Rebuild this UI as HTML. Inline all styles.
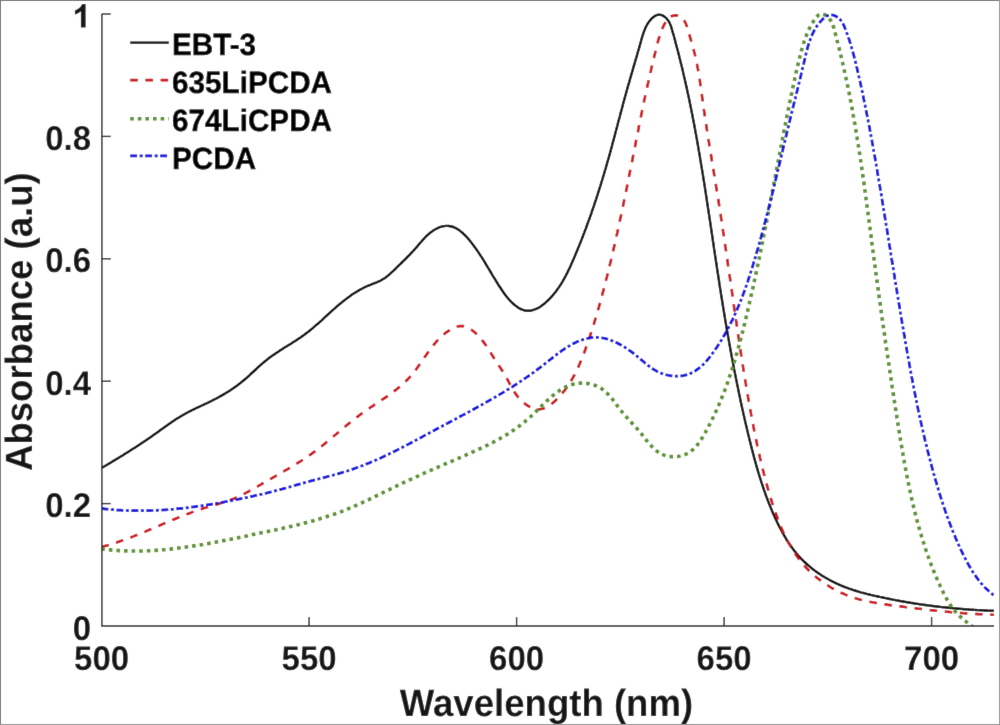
<!DOCTYPE html>
<html><head><meta charset="utf-8"><title>Absorbance spectra</title>
<style>html,body{margin:0;padding:0;background:#fff;width:1000px;height:725px;overflow:hidden}svg{display:block;text-rendering:geometricPrecision}</style>
</head><body>
<svg width="1000" height="725" viewBox="0 0 1000 725">
<defs><filter id="soft" x="0" y="0" width="1000" height="725" filterUnits="userSpaceOnUse"><feConvolveMatrix order="3" kernelMatrix="0.0052 0.0619 0.0052 0.0619 0.7314 0.0619 0.0052 0.0619 0.0052" divisor="1" edgeMode="duplicate" preserveAlpha="true"/></filter></defs>
<g filter="url(#soft)">
<rect x="0" y="0" width="1000" height="725" fill="#ffffff"/>
<defs><clipPath id="cp"><rect x="101.6" y="4.0" width="892.4" height="622.0"/></clipPath></defs>
<g clip-path="url(#cp)" fill="none" stroke-linejoin="round">
<path d="M101.5,468.0 L102.8,467.2 L104.1,466.5 L105.4,465.7 L106.7,465.0 L108.0,464.2 L109.2,463.4 L110.5,462.7 L111.8,461.9 L113.1,461.1 L114.4,460.4 L115.7,459.6 L117.0,458.8 L118.3,458.1 L119.5,457.3 L120.8,456.5 L122.1,455.7 L123.4,454.9 L124.6,454.1 L125.9,453.3 L127.2,452.5 L128.4,451.7 L129.7,450.9 L131.0,450.1 L132.2,449.3 L133.5,448.5 L134.8,447.7 L136.0,446.9 L137.3,446.1 L138.5,445.2 L139.8,444.4 L141.0,443.6 L142.3,442.8 L143.5,441.9 L144.8,441.1 L146.0,440.2 L147.2,439.4 L148.5,438.6 L149.7,437.7 L150.9,436.9 L152.2,436.0 L153.4,435.1 L154.6,434.3 L155.9,433.4 L157.1,432.5 L158.3,431.7 L159.5,430.8 L160.7,429.9 L161.9,429.0 L163.2,428.2 L164.4,427.3 L165.6,426.4 L166.8,425.6 L168.0,424.7 L169.3,423.8 L170.5,423.0 L171.7,422.1 L173.0,421.3 L174.2,420.5 L175.5,419.6 L176.7,418.8 L178.0,418.0 L179.3,417.2 L180.5,416.4 L181.8,415.7 L183.1,414.9 L184.4,414.2 L185.7,413.4 L187.1,412.7 L188.4,412.0 L189.7,411.3 L191.1,410.7 L192.4,410.0 L193.8,409.3 L195.1,408.7 L196.5,408.0 L197.8,407.4 L199.2,406.8 L200.5,406.1 L201.9,405.5 L203.2,404.9 L204.6,404.2 L206.0,403.6 L207.3,403.0 L208.7,402.3 L210.0,401.7 L211.4,401.0 L212.7,400.3 L214.0,399.6 L215.4,399.0 L216.7,398.3 L218.0,397.6 L219.3,396.8 L220.6,396.1 L221.9,395.4 L223.2,394.6 L224.5,393.9 L225.8,393.1 L227.1,392.3 L228.4,391.5 L229.6,390.7 L230.9,389.9 L232.1,389.0 L233.4,388.2 L234.6,387.3 L235.8,386.5 L237.0,385.6 L238.2,384.7 L239.4,383.8 L240.6,382.9 L241.8,381.9 L242.9,381.0 L244.1,380.0 L245.2,379.0 L246.4,378.1 L247.5,377.1 L248.6,376.1 L249.7,375.1 L250.8,374.0 L251.9,373.0 L253.0,372.0 L254.1,371.0 L255.2,370.0 L256.3,369.0 L257.4,367.9 L258.5,366.9 L259.6,365.9 L260.8,364.9 L261.9,363.9 L263.0,362.9 L264.2,362.0 L265.3,361.0 L266.5,360.1 L267.6,359.1 L268.8,358.2 L270.0,357.3 L271.2,356.4 L272.5,355.6 L273.7,354.7 L274.9,353.9 L276.2,353.0 L277.4,352.2 L278.7,351.4 L279.9,350.6 L281.2,349.7 L282.5,348.9 L283.7,348.1 L285.0,347.3 L286.3,346.6 L287.5,345.8 L288.8,345.0 L290.1,344.2 L291.4,343.4 L292.6,342.6 L293.9,341.8 L295.1,341.0 L296.4,340.2 L297.7,339.3 L298.9,338.5 L300.2,337.7 L301.4,336.8 L302.6,336.0 L303.8,335.1 L305.0,334.2 L306.2,333.3 L307.4,332.4 L308.6,331.5 L309.8,330.5 L310.9,329.6 L312.1,328.6 L313.3,327.7 L314.4,326.7 L315.5,325.7 L316.7,324.7 L317.8,323.8 L318.9,322.8 L320.0,321.8 L321.1,320.8 L322.3,319.8 L323.4,318.7 L324.5,317.7 L325.6,316.7 L326.7,315.7 L327.8,314.7 L328.9,313.7 L330.0,312.7 L331.1,311.7 L332.2,310.7 L333.3,309.7 L334.5,308.7 L335.6,307.7 L336.7,306.7 L337.8,305.7 L339.0,304.7 L340.1,303.8 L341.3,302.8 L342.4,301.9 L343.6,300.9 L344.8,300.0 L346.0,299.1 L347.2,298.1 L348.4,297.2 L349.6,296.4 L350.8,295.5 L352.0,294.6 L353.3,293.8 L354.5,293.0 L355.8,292.2 L357.1,291.4 L358.4,290.6 L359.7,289.9 L361.0,289.2 L362.3,288.5 L363.6,287.8 L365.0,287.1 L366.3,286.5 L367.7,285.9 L369.1,285.3 L370.5,284.8 L371.9,284.2 L373.3,283.7 L374.7,283.2 L376.1,282.6 L377.5,282.0 L378.8,281.4 L380.2,280.8 L381.5,280.1 L382.8,279.3 L384.1,278.5 L385.3,277.7 L386.5,276.8 L387.7,275.9 L388.9,274.9 L390.0,273.9 L391.1,272.9 L392.2,271.9 L393.3,270.9 L394.4,269.8 L395.4,268.8 L396.5,267.7 L397.6,266.7 L398.6,265.6 L399.7,264.6 L400.8,263.5 L401.9,262.5 L402.9,261.4 L404.0,260.4 L405.1,259.3 L406.1,258.3 L407.2,257.2 L408.2,256.1 L409.3,255.1 L410.3,254.0 L411.3,252.9 L412.4,251.8 L413.4,250.7 L414.4,249.6 L415.4,248.5 L416.4,247.4 L417.4,246.2 L418.3,245.1 L419.3,243.9 L420.3,242.8 L421.3,241.7 L422.3,240.5 L423.2,239.4 L424.3,238.3 L425.3,237.2 L426.4,236.2 L427.4,235.1 L428.6,234.1 L429.7,233.2 L430.9,232.2 L432.1,231.4 L433.3,230.5 L434.6,229.7 L435.9,229.0 L437.3,228.3 L438.6,227.7 L440.0,227.2 L441.4,226.7 L442.9,226.3 L444.4,226.1 L445.9,225.9 L447.4,225.9 L448.9,226.0 L450.3,226.2 L451.8,226.5 L453.2,227.0 L454.6,227.6 L456.0,228.2 L457.3,229.0 L458.5,229.8 L459.7,230.6 L460.9,231.6 L462.1,232.5 L463.2,233.5 L464.3,234.6 L465.3,235.6 L466.4,236.7 L467.4,237.8 L468.4,238.9 L469.3,240.1 L470.3,241.2 L471.2,242.4 L472.1,243.6 L473.0,244.8 L473.9,246.0 L474.8,247.2 L475.7,248.4 L476.6,249.7 L477.4,250.9 L478.3,252.1 L479.1,253.4 L479.9,254.6 L480.7,255.9 L481.6,257.1 L482.4,258.4 L483.2,259.7 L484.0,260.9 L484.7,262.2 L485.5,263.5 L486.3,264.8 L487.1,266.1 L487.8,267.3 L488.6,268.6 L489.4,269.9 L490.1,271.2 L490.9,272.5 L491.7,273.8 L492.4,275.1 L493.2,276.4 L494.0,277.6 L494.8,278.9 L495.6,280.2 L496.3,281.5 L497.1,282.7 L497.9,284.0 L498.7,285.3 L499.5,286.5 L500.4,287.8 L501.2,289.0 L502.0,290.3 L502.9,291.5 L503.7,292.8 L504.6,294.0 L505.5,295.2 L506.4,296.4 L507.4,297.5 L508.3,298.7 L509.3,299.8 L510.3,300.9 L511.4,302.0 L512.4,303.0 L513.5,304.0 L514.7,305.0 L515.9,305.9 L517.1,306.8 L518.3,307.7 L519.6,308.4 L520.9,309.1 L522.3,309.7 L523.7,310.2 L525.2,310.5 L526.7,310.7 L528.2,310.8 L529.7,310.7 L531.2,310.5 L532.6,310.2 L534.1,309.7 L535.5,309.2 L536.8,308.6 L538.2,307.9 L539.5,307.2 L540.7,306.4 L541.9,305.5 L543.2,304.6 L544.3,303.7 L545.5,302.7 L546.6,301.7 L547.7,300.7 L548.7,299.6 L549.8,298.6 L550.8,297.5 L551.8,296.4 L552.8,295.2 L553.8,294.1 L554.7,292.9 L555.7,291.7 L556.6,290.6 L557.4,289.3 L558.3,288.1 L559.2,286.9 L560.0,285.6 L560.8,284.4 L561.6,283.1 L562.4,281.8 L563.1,280.5 L563.9,279.2 L564.6,277.9 L565.3,276.6 L566.0,275.3 L566.7,273.9 L567.4,272.6 L568.0,271.3 L568.7,269.9 L569.3,268.5 L570.0,267.2 L570.6,265.8 L571.2,264.5 L571.8,263.1 L572.4,261.7 L573.0,260.3 L573.6,259.0 L574.2,257.6 L574.8,256.2 L575.4,254.8 L575.9,253.4 L576.5,252.1 L577.1,250.7 L577.7,249.3 L578.2,247.9 L578.8,246.5 L579.4,245.1 L579.9,243.7 L580.5,242.3 L581.0,241.0 L581.6,239.6 L582.1,238.2 L582.7,236.8 L583.2,235.4 L583.7,234.0 L584.3,232.6 L584.8,231.2 L585.3,229.8 L585.9,228.4 L586.4,227.0 L586.9,225.5 L587.4,224.1 L587.9,222.7 L588.4,221.3 L589.0,219.9 L589.5,218.5 L590.0,217.1 L590.5,215.7 L591.0,214.3 L591.5,212.8 L591.9,211.4 L592.4,210.0 L592.9,208.6 L593.4,207.2 L593.9,205.8 L594.4,204.3 L594.8,202.9 L595.3,201.5 L595.8,200.1 L596.3,198.6 L596.7,197.2 L597.2,195.8 L597.7,194.4 L598.1,192.9 L598.6,191.5 L599.0,190.1 L599.5,188.7 L599.9,187.2 L600.4,185.8 L600.8,184.4 L601.3,182.9 L601.7,181.5 L602.1,180.1 L602.6,178.6 L603.0,177.2 L603.4,175.8 L603.9,174.3 L604.3,172.9 L604.7,171.5 L605.1,170.0 L605.6,168.6 L606.0,167.1 L606.4,165.7 L606.8,164.3 L607.2,162.8 L607.6,161.4 L608.1,159.9 L608.5,158.5 L608.9,157.0 L609.3,155.6 L609.7,154.2 L610.1,152.7 L610.5,151.3 L610.9,149.8 L611.3,148.4 L611.7,146.9 L612.1,145.5 L612.4,144.0 L612.8,142.6 L613.2,141.1 L613.6,139.7 L614.0,138.2 L614.4,136.8 L614.8,135.4 L615.2,133.9 L615.5,132.5 L615.9,131.0 L616.3,129.6 L616.7,128.1 L617.1,126.7 L617.5,125.2 L617.8,123.8 L618.2,122.3 L618.6,120.9 L619.0,119.4 L619.4,118.0 L619.8,116.5 L620.1,115.1 L620.5,113.6 L620.9,112.2 L621.3,110.7 L621.7,109.3 L622.1,107.8 L622.5,106.4 L622.8,104.9 L623.2,103.5 L623.6,102.0 L624.0,100.6 L624.4,99.1 L624.8,97.7 L625.2,96.2 L625.6,94.8 L626.0,93.4 L626.4,91.9 L626.8,90.5 L627.2,89.0 L627.6,87.6 L628.0,86.1 L628.4,84.7 L628.8,83.3 L629.3,81.8 L629.7,80.4 L630.1,78.9 L630.5,77.5 L630.9,76.1 L631.3,74.6 L631.8,73.2 L632.2,71.7 L632.6,70.3 L633.0,68.9 L633.4,67.4 L633.8,66.0 L634.3,64.5 L634.7,63.1 L635.1,61.7 L635.5,60.2 L635.9,58.8 L636.4,57.3 L636.8,55.9 L637.2,54.5 L637.6,53.0 L638.0,51.6 L638.4,50.1 L638.9,48.7 L639.3,47.3 L639.7,45.8 L640.1,44.4 L640.5,42.9 L640.9,41.5 L641.3,40.0 L641.7,38.6 L642.1,37.2 L642.6,35.7 L643.0,34.3 L643.5,32.9 L644.0,31.5 L644.5,30.1 L645.1,28.7 L645.7,27.3 L646.4,26.0 L647.1,24.7 L647.9,23.4 L648.7,22.1 L649.6,20.9 L650.5,19.8 L651.6,18.7 L652.7,17.6 L653.8,16.7 L655.1,15.9 L656.4,15.2 L657.9,14.8 L659.4,14.7 L660.8,14.9 L662.3,15.4 L663.6,16.1 L664.8,16.9 L665.9,17.9 L667.0,19.0 L667.9,20.2 L668.8,21.4 L669.5,22.7 L670.1,24.1 L670.7,25.5 L671.2,26.9 L671.6,28.3 L672.0,29.8 L672.4,31.2 L672.8,32.7 L673.3,34.1 L673.7,35.5 L674.1,37.0 L674.5,38.4 L674.9,39.9 L675.3,41.3 L675.6,42.8 L676.0,44.2 L676.4,45.7 L676.8,47.1 L677.2,48.6 L677.6,50.0 L678.0,51.5 L678.3,52.9 L678.7,54.4 L679.1,55.8 L679.4,57.3 L679.8,58.7 L680.2,60.2 L680.5,61.6 L680.9,63.1 L681.3,64.5 L681.6,66.0 L682.0,67.5 L682.3,68.9 L682.7,70.4 L683.0,71.8 L683.3,73.3 L683.7,74.8 L684.0,76.2 L684.4,77.7 L684.7,79.1 L685.0,80.6 L685.4,82.1 L685.7,83.5 L686.0,85.0 L686.3,86.4 L686.7,87.9 L687.0,89.4 L687.3,90.8 L687.6,92.3 L687.9,93.8 L688.3,95.2 L688.6,96.7 L688.9,98.2 L689.2,99.6 L689.5,101.1 L689.8,102.6 L690.1,104.0 L690.4,105.5 L690.7,107.0 L691.0,108.4 L691.3,109.9 L691.6,111.4 L691.9,112.9 L692.2,114.3 L692.5,115.8 L692.7,117.3 L693.0,118.7 L693.3,120.2 L693.6,121.7 L693.9,123.2 L694.2,124.6 L694.4,126.1 L694.7,127.6 L695.0,129.0 L695.3,130.5 L695.5,132.0 L695.8,133.5 L696.1,134.9 L696.3,136.4 L696.6,137.9 L696.9,139.4 L697.1,140.8 L697.4,142.3 L697.6,143.8 L697.9,145.3 L698.2,146.8 L698.4,148.2 L698.7,149.7 L698.9,151.2 L699.2,152.7 L699.4,154.1 L699.7,155.6 L699.9,157.1 L700.2,158.6 L700.4,160.0 L700.7,161.5 L700.9,163.0 L701.2,164.5 L701.4,166.0 L701.7,167.4 L701.9,168.9 L702.2,170.4 L702.4,171.9 L702.6,173.4 L702.9,174.8 L703.1,176.3 L703.3,177.8 L703.6,179.3 L703.8,180.8 L704.1,182.2 L704.3,183.7 L704.5,185.2 L704.8,186.7 L705.0,188.2 L705.2,189.6 L705.4,191.1 L705.7,192.6 L705.9,194.1 L706.1,195.6 L706.4,197.1 L706.6,198.5 L706.8,200.0 L707.0,201.5 L707.3,203.0 L707.5,204.5 L707.7,205.9 L707.9,207.4 L708.2,208.9 L708.4,210.4 L708.6,211.9 L708.8,213.4 L709.1,214.8 L709.3,216.3 L709.5,217.8 L709.7,219.3 L710.0,220.8 L710.2,222.2 L710.4,223.7 L710.6,225.2 L710.8,226.7 L711.1,228.2 L711.3,229.7 L711.5,231.1 L711.7,232.6 L711.9,234.1 L712.2,235.6 L712.4,237.1 L712.6,238.6 L712.8,240.0 L713.0,241.5 L713.3,243.0 L713.5,244.5 L713.7,246.0 L713.9,247.5 L714.1,248.9 L714.4,250.4 L714.6,251.9 L714.8,253.4 L715.0,254.9 L715.3,256.3 L715.5,257.8 L715.7,259.3 L715.9,260.8 L716.1,262.3 L716.4,263.8 L716.6,265.2 L716.8,266.7 L717.0,268.2 L717.3,269.7 L717.5,271.2 L717.7,272.7 L717.9,274.1 L718.2,275.6 L718.4,277.1 L718.6,278.6 L718.9,280.1 L719.1,281.5 L719.3,283.0 L719.5,284.5 L719.8,286.0 L720.0,287.5 L720.2,288.9 L720.5,290.4 L720.7,291.9 L720.9,293.4 L721.2,294.9 L721.4,296.4 L721.6,297.8 L721.9,299.3 L722.1,300.8 L722.4,302.3 L722.6,303.8 L722.8,305.2 L723.1,306.7 L723.3,308.2 L723.6,309.7 L723.8,311.1 L724.0,312.6 L724.3,314.1 L724.5,315.6 L724.8,317.1 L725.0,318.5 L725.3,320.0 L725.5,321.5 L725.8,323.0 L726.0,324.5 L726.3,325.9 L726.5,327.4 L726.8,328.9 L727.0,330.4 L727.3,331.8 L727.6,333.3 L727.8,334.8 L728.1,336.3 L728.3,337.7 L728.6,339.2 L728.9,340.7 L729.1,342.2 L729.4,343.7 L729.6,345.1 L729.9,346.6 L730.2,348.1 L730.4,349.6 L730.7,351.0 L731.0,352.5 L731.3,354.0 L731.5,355.4 L731.8,356.9 L732.1,358.4 L732.4,359.9 L732.6,361.3 L732.9,362.8 L733.2,364.3 L733.5,365.8 L733.8,367.2 L734.0,368.7 L734.3,370.2 L734.6,371.6 L734.9,373.1 L735.2,374.6 L735.5,376.1 L735.8,377.5 L736.1,379.0 L736.4,380.5 L736.7,381.9 L737.0,383.4 L737.3,384.9 L737.6,386.3 L737.9,387.8 L738.2,389.3 L738.5,390.7 L738.8,392.2 L739.1,393.7 L739.4,395.2 L739.7,396.6 L740.0,398.1 L740.3,399.5 L740.6,401.0 L740.9,402.5 L741.3,403.9 L741.6,405.4 L741.9,406.9 L742.2,408.3 L742.6,409.8 L742.9,411.3 L743.2,412.7 L743.5,414.2 L743.9,415.7 L744.2,417.1 L744.5,418.6 L744.9,420.0 L745.2,421.5 L745.5,423.0 L745.9,424.4 L746.2,425.9 L746.6,427.3 L746.9,428.8 L747.3,430.3 L747.6,431.7 L748.0,433.2 L748.3,434.6 L748.7,436.1 L749.0,437.5 L749.4,439.0 L749.7,440.4 L750.1,441.9 L750.5,443.4 L750.8,444.8 L751.2,446.3 L751.6,447.7 L751.9,449.2 L752.3,450.6 L752.7,452.1 L753.1,453.5 L753.5,455.0 L753.8,456.4 L754.2,457.9 L754.6,459.3 L755.0,460.8 L755.4,462.2 L755.8,463.6 L756.2,465.1 L756.6,466.5 L757.1,468.0 L757.5,469.4 L757.9,470.8 L758.3,472.3 L758.8,473.7 L759.2,475.2 L759.6,476.6 L760.1,478.0 L760.5,479.4 L761.0,480.9 L761.4,482.3 L761.9,483.7 L762.4,485.2 L762.9,486.6 L763.3,488.0 L763.8,489.4 L764.3,490.8 L764.8,492.2 L765.3,493.7 L765.8,495.1 L766.3,496.5 L766.9,497.9 L767.4,499.3 L767.9,500.7 L768.5,502.1 L769.0,503.5 L769.6,504.9 L770.1,506.3 L770.7,507.6 L771.3,509.0 L771.8,510.4 L772.4,511.8 L773.0,513.2 L773.6,514.5 L774.2,515.9 L774.8,517.3 L775.5,518.6 L776.1,520.0 L776.7,521.4 L777.4,522.7 L778.0,524.1 L778.7,525.4 L779.4,526.7 L780.1,528.1 L780.8,529.4 L781.5,530.7 L782.2,532.0 L782.9,533.4 L783.7,534.7 L784.4,536.0 L785.2,537.2 L785.9,538.5 L786.7,539.8 L787.5,541.1 L788.3,542.3 L789.2,543.6 L790.0,544.8 L790.9,546.0 L791.7,547.3 L792.6,548.5 L793.5,549.7 L794.5,550.9 L795.4,552.0 L796.3,553.2 L797.3,554.3 L798.3,555.5 L799.3,556.6 L800.3,557.7 L801.3,558.8 L802.4,559.9 L803.4,560.9 L804.5,562.0 L805.6,563.0 L806.7,564.0 L807.8,565.0 L809.0,566.0 L810.1,566.9 L811.3,567.9 L812.4,568.8 L813.6,569.7 L814.8,570.6 L816.0,571.5 L817.3,572.4 L818.5,573.2 L819.7,574.1 L821.0,574.9 L822.2,575.7 L823.5,576.5 L824.8,577.3 L826.1,578.0 L827.4,578.8 L828.7,579.5 L830.0,580.2 L831.3,580.9 L832.7,581.6 L834.0,582.3 L835.4,582.9 L836.7,583.6 L838.1,584.2 L839.5,584.8 L840.8,585.4 L842.2,586.0 L843.6,586.5 L845.0,587.1 L846.4,587.6 L847.8,588.2 L849.2,588.7 L850.6,589.1 L852.1,589.6 L853.5,590.1 L854.9,590.5 L856.3,591.0 L857.8,591.4 L859.2,591.8 L860.7,592.3 L862.1,592.7 L863.5,593.0 L865.0,593.4 L866.4,593.8 L867.9,594.2 L869.4,594.5 L870.8,594.9 L872.3,595.2 L873.7,595.6 L875.2,595.9 L876.7,596.2 L878.1,596.5 L879.6,596.9 L881.0,597.2 L882.5,597.5 L884.0,597.8 L885.4,598.1 L886.9,598.4 L888.4,598.7 L889.9,599.0 L891.3,599.3 L892.8,599.6 L894.3,599.9 L895.7,600.2 L897.2,600.4 L898.7,600.7 L900.2,601.0 L901.6,601.2 L903.1,601.5 L904.6,601.8 L906.1,602.0 L907.5,602.3 L909.0,602.5 L910.5,602.8 L912.0,603.0 L913.5,603.2 L914.9,603.5 L916.4,603.7 L917.9,603.9 L919.4,604.2 L920.9,604.4 L922.4,604.6 L923.8,604.8 L925.3,605.0 L926.8,605.2 L928.3,605.4 L929.8,605.6 L931.3,605.8 L932.8,606.0 L934.2,606.2 L935.7,606.4 L937.2,606.5 L938.7,606.7 L940.2,606.9 L941.7,607.1 L943.2,607.2 L944.7,607.4 L946.2,607.5 L947.6,607.7 L949.1,607.8 L950.6,608.0 L952.1,608.1 L953.6,608.3 L955.1,608.4 L956.6,608.5 L958.1,608.7 L959.6,608.8 L961.1,608.9 L962.6,609.0 L964.1,609.2 L965.6,609.3 L967.1,609.4 L968.6,609.5 L970.0,609.6 L971.5,609.7 L973.0,609.8 L974.5,609.9 L976.0,610.0 L977.5,610.1 L979.0,610.1 L980.5,610.2 L982.0,610.3 L983.5,610.4 L985.0,610.5 L986.5,610.5 L988.0,610.6 L989.5,610.6 L991.0,610.7 L992.5,610.8 L994.0,610.8" stroke="#000000" stroke-width="2.4"/>
<path d="M101.4,547.0 L102.9,546.6 L104.3,546.2 L105.8,545.8 L107.2,545.4 L108.7,545.0 L110.1,544.6 L111.5,544.1 L113.0,543.7 L114.4,543.2 L115.8,542.8 L117.3,542.3 L118.7,541.8 L120.1,541.3 L121.5,540.8 L122.9,540.3 L124.3,539.8 L125.7,539.3 L127.2,538.8 L128.6,538.3 L130.0,537.7 L131.4,537.2 L132.8,536.6 L134.2,536.1 L135.5,535.5 L136.9,535.0 L138.3,534.4 L139.7,533.9 L141.1,533.3 L142.5,532.7 L143.9,532.1 L145.3,531.6 L146.6,531.0 L148.0,530.4 L149.4,529.8 L150.8,529.2 L152.2,528.6 L153.5,528.1 L154.9,527.5 L156.3,526.9 L157.7,526.3 L159.1,525.7 L160.4,525.1 L161.8,524.5 L163.2,523.9 L164.6,523.3 L166.0,522.7 L167.3,522.2 L168.7,521.6 L170.1,521.0 L171.5,520.4 L172.9,519.8 L174.2,519.3 L175.6,518.7 L177.0,518.1 L178.4,517.5 L179.8,517.0 L181.2,516.4 L182.6,515.9 L184.0,515.3 L185.4,514.8 L186.8,514.2 L188.2,513.7 L189.6,513.2 L191.0,512.6 L192.4,512.1 L193.8,511.6 L195.2,511.1 L196.6,510.6 L198.0,510.1 L199.5,509.6 L200.9,509.2 L202.3,508.7 L203.7,508.2 L205.2,507.8 L206.6,507.4 L208.0,506.9 L209.5,506.5 L210.9,506.1 L212.4,505.6 L213.8,505.2 L215.2,504.8 L216.7,504.4 L218.1,504.0 L219.6,503.5 L221.0,503.1 L222.4,502.6 L223.8,502.2 L225.3,501.7 L226.7,501.3 L228.1,500.8 L229.5,500.3 L230.9,499.8 L232.3,499.2 L233.7,498.7 L235.1,498.1 L236.5,497.5 L237.9,496.9 L239.2,496.3 L240.6,495.6 L241.9,495.0 L243.3,494.3 L244.6,493.6 L245.9,492.9 L247.2,492.2 L248.6,491.5 L249.9,490.7 L251.2,490.0 L252.5,489.3 L253.8,488.5 L255.1,487.8 L256.4,487.0 L257.7,486.3 L259.0,485.5 L260.3,484.8 L261.6,484.0 L262.9,483.3 L264.2,482.5 L265.5,481.8 L266.8,481.0 L268.1,480.3 L269.4,479.5 L270.7,478.8 L272.0,478.1 L273.3,477.3 L274.6,476.6 L275.9,475.8 L277.2,475.1 L278.5,474.4 L279.8,473.6 L281.1,472.9 L282.4,472.1 L283.7,471.4 L285.0,470.6 L286.3,469.9 L287.6,469.1 L288.9,468.3 L290.2,467.6 L291.5,466.8 L292.8,466.0 L294.0,465.3 L295.3,464.5 L296.6,463.7 L297.9,462.9 L299.1,462.1 L300.4,461.3 L301.7,460.5 L302.9,459.7 L304.2,458.8 L305.4,458.0 L306.7,457.2 L307.9,456.3 L309.1,455.5 L310.4,454.6 L311.6,453.8 L312.8,452.9 L314.0,452.0 L315.2,451.1 L316.4,450.2 L317.6,449.3 L318.8,448.4 L320.0,447.5 L321.2,446.5 L322.4,445.6 L323.5,444.7 L324.7,443.7 L325.9,442.8 L327.0,441.8 L328.2,440.9 L329.3,439.9 L330.5,439.0 L331.6,438.0 L332.8,437.0 L333.9,436.1 L335.1,435.1 L336.2,434.1 L337.3,433.1 L338.5,432.2 L339.6,431.2 L340.8,430.2 L341.9,429.3 L343.1,428.3 L344.2,427.3 L345.4,426.4 L346.5,425.4 L347.7,424.5 L348.8,423.5 L350.0,422.6 L351.2,421.6 L352.3,420.7 L353.5,419.8 L354.7,418.8 L355.9,417.9 L357.1,417.0 L358.3,416.1 L359.5,415.2 L360.7,414.3 L361.9,413.4 L363.1,412.5 L364.3,411.7 L365.6,410.8 L366.8,410.0 L368.0,409.1 L369.3,408.3 L370.5,407.4 L371.8,406.6 L373.0,405.8 L374.3,404.9 L375.5,404.1 L376.7,403.3 L378.0,402.4 L379.2,401.6 L380.5,400.8 L381.7,399.9 L383.0,399.1 L384.2,398.3 L385.5,397.4 L386.7,396.6 L387.9,395.7 L389.1,394.8 L390.4,394.0 L391.6,393.1 L392.8,392.2 L394.0,391.3 L395.2,390.4 L396.4,389.4 L397.5,388.5 L398.7,387.6 L399.8,386.6 L401.0,385.6 L402.1,384.6 L403.2,383.6 L404.3,382.6 L405.4,381.6 L406.5,380.5 L407.5,379.5 L408.6,378.4 L409.6,377.3 L410.6,376.2 L411.6,375.0 L412.5,373.9 L413.5,372.7 L414.4,371.5 L415.3,370.4 L416.2,369.2 L417.1,368.0 L418.0,366.7 L418.9,365.5 L419.7,364.3 L420.6,363.1 L421.5,361.8 L422.3,360.6 L423.2,359.4 L424.0,358.1 L424.9,356.9 L425.7,355.7 L426.6,354.4 L427.4,353.2 L428.3,352.0 L429.2,350.8 L430.1,349.6 L431.0,348.4 L431.9,347.2 L432.8,346.0 L433.7,344.8 L434.7,343.6 L435.6,342.5 L436.6,341.4 L437.6,340.3 L438.7,339.2 L439.7,338.1 L440.8,337.1 L441.9,336.0 L443.0,335.0 L444.2,334.1 L445.3,333.1 L446.5,332.2 L447.8,331.4 L449.0,330.6 L450.3,329.8 L451.6,329.0 L452.9,328.3 L454.3,327.7 L455.7,327.1 L457.1,326.6 L458.5,326.3 L460.0,326.1 L461.5,326.0 L463.0,326.1 L464.5,326.4 L465.9,326.9 L467.3,327.4 L468.6,328.1 L469.9,328.9 L471.2,329.7 L472.4,330.5 L473.6,331.5 L474.8,332.4 L475.9,333.4 L477.0,334.4 L478.0,335.5 L479.1,336.6 L480.1,337.7 L481.1,338.8 L482.0,340.0 L482.9,341.2 L483.8,342.4 L484.7,343.6 L485.6,344.8 L486.4,346.1 L487.2,347.3 L488.1,348.6 L488.9,349.8 L489.7,351.1 L490.5,352.4 L491.2,353.7 L492.0,354.9 L492.8,356.2 L493.6,357.5 L494.4,358.7 L495.2,360.0 L496.0,361.3 L496.9,362.5 L497.7,363.8 L498.5,365.0 L499.3,366.3 L500.2,367.5 L501.0,368.8 L501.8,370.0 L502.6,371.3 L503.4,372.6 L504.2,373.8 L505.0,375.1 L505.8,376.4 L506.5,377.7 L507.2,379.0 L507.9,380.3 L508.6,381.7 L509.3,383.0 L510.0,384.3 L510.8,385.6 L511.5,387.0 L512.2,388.3 L512.9,389.6 L513.7,390.9 L514.5,392.1 L515.3,393.4 L516.2,394.6 L517.1,395.8 L518.0,397.0 L519.0,398.1 L520.0,399.2 L521.1,400.3 L522.1,401.4 L523.2,402.4 L524.4,403.3 L525.6,404.2 L526.8,405.1 L528.1,405.9 L529.4,406.7 L530.7,407.4 L532.1,408.0 L533.5,408.5 L534.9,408.9 L536.4,409.2 L537.9,409.3 L539.4,409.3 L540.9,409.1 L542.3,408.8 L543.8,408.4 L545.2,407.8 L546.5,407.2 L547.8,406.5 L549.1,405.7 L550.4,404.8 L551.6,403.9 L552.7,403.0 L553.9,402.0 L555.0,401.0 L556.1,400.0 L557.1,398.9 L558.2,397.9 L559.2,396.8 L560.2,395.7 L561.2,394.5 L562.2,393.4 L563.1,392.2 L564.1,391.1 L565.0,389.9 L565.9,388.7 L566.8,387.5 L567.6,386.2 L568.5,385.0 L569.3,383.7 L570.1,382.5 L570.9,381.2 L571.6,379.9 L572.4,378.6 L573.1,377.3 L573.8,376.0 L574.6,374.7 L575.2,373.3 L575.9,372.0 L576.6,370.6 L577.2,369.3 L577.9,367.9 L578.5,366.6 L579.1,365.2 L579.7,363.8 L580.3,362.4 L580.9,361.1 L581.4,359.7 L582.0,358.3 L582.6,356.9 L583.1,355.5 L583.6,354.1 L584.2,352.7 L584.7,351.3 L585.2,349.9 L585.7,348.5 L586.2,347.0 L586.7,345.6 L587.2,344.2 L587.7,342.8 L588.2,341.4 L588.7,340.0 L589.2,338.5 L589.6,337.1 L590.1,335.7 L590.6,334.3 L591.0,332.9 L591.5,331.4 L592.0,330.0 L592.4,328.6 L592.9,327.1 L593.3,325.7 L593.8,324.3 L594.2,322.8 L594.6,321.4 L595.1,320.0 L595.5,318.5 L595.9,317.1 L596.4,315.7 L596.8,314.2 L597.2,312.8 L597.6,311.3 L598.0,309.9 L598.5,308.5 L598.9,307.0 L599.3,305.6 L599.7,304.1 L600.1,302.7 L600.5,301.2 L600.9,299.8 L601.3,298.3 L601.7,296.9 L602.1,295.4 L602.4,294.0 L602.8,292.6 L603.2,291.1 L603.6,289.7 L604.0,288.2 L604.4,286.8 L604.7,285.3 L605.1,283.8 L605.5,282.4 L605.8,280.9 L606.2,279.5 L606.6,278.0 L607.0,276.6 L607.3,275.1 L607.7,273.7 L608.0,272.2 L608.4,270.8 L608.8,269.3 L609.1,267.8 L609.5,266.4 L609.8,264.9 L610.2,263.5 L610.5,262.0 L610.9,260.6 L611.2,259.1 L611.6,257.6 L611.9,256.2 L612.3,254.7 L612.6,253.3 L612.9,251.8 L613.3,250.3 L613.6,248.9 L614.0,247.4 L614.3,246.0 L614.6,244.5 L615.0,243.0 L615.3,241.6 L615.6,240.1 L615.9,238.6 L616.3,237.2 L616.6,235.7 L616.9,234.2 L617.3,232.8 L617.6,231.3 L617.9,229.9 L618.2,228.4 L618.5,226.9 L618.9,225.5 L619.2,224.0 L619.5,222.5 L619.8,221.1 L620.1,219.6 L620.4,218.1 L620.8,216.7 L621.1,215.2 L621.4,213.7 L621.7,212.3 L622.0,210.8 L622.3,209.3 L622.6,207.9 L622.9,206.4 L623.2,204.9 L623.5,203.5 L623.8,202.0 L624.1,200.5 L624.5,199.1 L624.8,197.6 L625.1,196.1 L625.4,194.6 L625.7,193.2 L626.0,191.7 L626.3,190.2 L626.6,188.8 L626.9,187.3 L627.2,185.8 L627.5,184.4 L627.8,182.9 L628.0,181.4 L628.3,179.9 L628.6,178.5 L628.9,177.0 L629.2,175.5 L629.5,174.1 L629.8,172.6 L630.1,171.1 L630.4,169.7 L630.7,168.2 L631.0,166.7 L631.3,165.2 L631.6,163.8 L631.9,162.3 L632.2,160.8 L632.5,159.4 L632.7,157.9 L633.0,156.4 L633.3,154.9 L633.6,153.5 L633.9,152.0 L634.2,150.5 L634.5,149.1 L634.8,147.6 L635.1,146.1 L635.4,144.6 L635.6,143.2 L635.9,141.7 L636.2,140.2 L636.5,138.8 L636.8,137.3 L637.1,135.8 L637.4,134.3 L637.7,132.9 L638.0,131.4 L638.3,129.9 L638.6,128.5 L638.8,127.0 L639.1,125.5 L639.4,124.1 L639.7,122.6 L640.0,121.1 L640.3,119.6 L640.6,118.2 L640.9,116.7 L641.2,115.2 L641.5,113.8 L641.8,112.3 L642.1,110.8 L642.4,109.4 L642.7,107.9 L643.0,106.4 L643.3,104.9 L643.6,103.5 L643.9,102.0 L644.2,100.5 L644.5,99.1 L644.9,97.6 L645.2,96.1 L645.5,94.7 L645.8,93.2 L646.1,91.7 L646.4,90.3 L646.8,88.8 L647.1,87.3 L647.4,85.9 L647.7,84.4 L648.1,83.0 L648.4,81.5 L648.7,80.0 L649.1,78.6 L649.4,77.1 L649.7,75.6 L650.1,74.2 L650.4,72.7 L650.8,71.3 L651.1,69.8 L651.4,68.3 L651.8,66.9 L652.1,65.4 L652.5,64.0 L652.8,62.5 L653.2,61.1 L653.5,59.6 L653.9,58.1 L654.2,56.7 L654.6,55.2 L654.9,53.8 L655.3,52.3 L655.6,50.8 L656.0,49.4 L656.3,47.9 L656.7,46.5 L657.1,45.0 L657.4,43.6 L657.8,42.1 L658.2,40.7 L658.6,39.2 L659.1,37.8 L659.5,36.4 L660.0,34.9 L660.5,33.5 L661.0,32.1 L661.5,30.7 L662.1,29.3 L662.6,27.9 L663.2,26.6 L663.9,25.2 L664.6,23.9 L665.3,22.6 L666.1,21.3 L667.0,20.1 L668.0,19.0 L669.1,17.9 L670.2,17.0 L671.5,16.2 L672.9,15.7 L674.4,15.4 L675.9,15.3 L677.4,15.5 L678.8,16.0 L680.2,16.6 L681.4,17.5 L682.5,18.5 L683.5,19.6 L684.4,20.8 L685.1,22.2 L685.8,23.5 L686.3,24.9 L686.8,26.3 L687.3,27.7 L687.8,29.1 L688.2,30.6 L688.6,32.0 L689.0,33.5 L689.4,34.9 L689.8,36.4 L690.2,37.8 L690.7,39.2 L691.1,40.7 L691.5,42.1 L691.9,43.6 L692.3,45.0 L692.8,46.4 L693.2,47.9 L693.6,49.3 L693.9,50.8 L694.3,52.2 L694.7,53.7 L695.0,55.1 L695.4,56.6 L695.7,58.1 L696.0,59.5 L696.4,61.0 L696.7,62.5 L697.0,63.9 L697.2,65.4 L697.5,66.9 L697.8,68.4 L698.1,69.8 L698.3,71.3 L698.6,72.8 L698.8,74.3 L699.1,75.7 L699.3,77.2 L699.5,78.7 L699.8,80.2 L700.0,81.7 L700.2,83.2 L700.4,84.6 L700.6,86.1 L700.8,87.6 L701.0,89.1 L701.3,90.6 L701.5,92.1 L701.7,93.5 L701.9,95.0 L702.1,96.5 L702.3,98.0 L702.5,99.5 L702.7,101.0 L702.9,102.5 L703.1,103.9 L703.3,105.4 L703.5,106.9 L703.7,108.4 L703.9,109.9 L704.2,111.4 L704.4,112.9 L704.6,114.3 L704.8,115.8 L705.0,117.3 L705.3,118.8 L705.5,120.3 L705.7,121.8 L705.9,123.2 L706.2,124.7 L706.4,126.2 L706.6,127.7 L706.8,129.2 L707.1,130.6 L707.3,132.1 L707.5,133.6 L707.8,135.1 L708.0,136.6 L708.2,138.1 L708.5,139.5 L708.7,141.0 L709.0,142.5 L709.2,144.0 L709.4,145.5 L709.7,146.9 L709.9,148.4 L710.2,149.9 L710.4,151.4 L710.6,152.9 L710.9,154.3 L711.1,155.8 L711.4,157.3 L711.6,158.8 L711.8,160.3 L712.1,161.7 L712.3,163.2 L712.6,164.7 L712.8,166.2 L713.1,167.7 L713.3,169.1 L713.6,170.6 L713.8,172.1 L714.0,173.6 L714.3,175.1 L714.5,176.5 L714.8,178.0 L715.0,179.5 L715.3,181.0 L715.5,182.5 L715.7,183.9 L716.0,185.4 L716.2,186.9 L716.5,188.4 L716.7,189.9 L716.9,191.3 L717.2,192.8 L717.4,194.3 L717.7,195.8 L717.9,197.3 L718.1,198.7 L718.4,200.2 L718.6,201.7 L718.8,203.2 L719.1,204.7 L719.3,206.1 L719.5,207.6 L719.8,209.1 L720.0,210.6 L720.2,212.1 L720.4,213.6 L720.7,215.0 L720.9,216.5 L721.1,218.0 L721.4,219.5 L721.6,221.0 L721.8,222.5 L722.0,223.9 L722.3,225.4 L722.5,226.9 L722.7,228.4 L722.9,229.9 L723.1,231.4 L723.4,232.8 L723.6,234.3 L723.8,235.8 L724.0,237.3 L724.2,238.8 L724.5,240.3 L724.7,241.7 L724.9,243.2 L725.1,244.7 L725.3,246.2 L725.6,247.7 L725.8,249.2 L726.0,250.6 L726.2,252.1 L726.4,253.6 L726.6,255.1 L726.9,256.6 L727.1,258.1 L727.3,259.5 L727.5,261.0 L727.7,262.5 L727.9,264.0 L728.1,265.5 L728.4,267.0 L728.6,268.4 L728.8,269.9 L729.0,271.4 L729.2,272.9 L729.4,274.4 L729.6,275.9 L729.9,277.4 L730.1,278.8 L730.3,280.3 L730.5,281.8 L730.7,283.3 L730.9,284.8 L731.1,286.3 L731.3,287.7 L731.6,289.2 L731.8,290.7 L732.0,292.2 L732.2,293.7 L732.4,295.2 L732.6,296.7 L732.8,298.1 L733.1,299.6 L733.3,301.1 L733.5,302.6 L733.7,304.1 L733.9,305.6 L734.1,307.0 L734.3,308.5 L734.5,310.0 L734.8,311.5 L735.0,313.0 L735.2,314.5 L735.4,316.0 L735.6,317.4 L735.8,318.9 L736.0,320.4 L736.3,321.9 L736.5,323.4 L736.7,324.9 L736.9,326.3 L737.1,327.8 L737.3,329.3 L737.6,330.8 L737.8,332.3 L738.0,333.8 L738.2,335.2 L738.4,336.7 L738.7,338.2 L738.9,339.7 L739.1,341.2 L739.3,342.7 L739.6,344.1 L739.8,345.6 L740.0,347.1 L740.2,348.6 L740.4,350.1 L740.7,351.6 L740.9,353.0 L741.1,354.5 L741.4,356.0 L741.6,357.5 L741.8,359.0 L742.0,360.4 L742.3,361.9 L742.5,363.4 L742.7,364.9 L743.0,366.4 L743.2,367.9 L743.4,369.3 L743.7,370.8 L743.9,372.3 L744.2,373.8 L744.4,375.3 L744.6,376.7 L744.9,378.2 L745.1,379.7 L745.4,381.2 L745.6,382.7 L745.9,384.1 L746.1,385.6 L746.3,387.1 L746.6,388.6 L746.8,390.1 L747.1,391.5 L747.4,393.0 L747.6,394.5 L747.9,396.0 L748.1,397.4 L748.4,398.9 L748.6,400.4 L748.9,401.9 L749.2,403.4 L749.4,404.8 L749.7,406.3 L750.0,407.8 L750.2,409.3 L750.5,410.7 L750.8,412.2 L751.0,413.7 L751.3,415.2 L751.6,416.6 L751.9,418.1 L752.1,419.6 L752.4,421.1 L752.7,422.5 L753.0,424.0 L753.3,425.5 L753.5,426.9 L753.8,428.4 L754.1,429.9 L754.4,431.4 L754.7,432.8 L755.0,434.3 L755.3,435.8 L755.6,437.2 L755.9,438.7 L756.2,440.2 L756.5,441.6 L756.8,443.1 L757.1,444.6 L757.4,446.0 L757.8,447.5 L758.1,449.0 L758.4,450.4 L758.7,451.9 L759.0,453.4 L759.4,454.8 L759.7,456.3 L760.0,457.8 L760.4,459.2 L760.7,460.7 L761.1,462.1 L761.4,463.6 L761.8,465.1 L762.1,466.5 L762.5,468.0 L762.8,469.4 L763.2,470.9 L763.6,472.3 L763.9,473.8 L764.3,475.2 L764.7,476.7 L765.1,478.1 L765.4,479.6 L765.8,481.0 L766.2,482.5 L766.6,483.9 L767.0,485.4 L767.4,486.8 L767.8,488.3 L768.2,489.7 L768.7,491.2 L769.1,492.6 L769.5,494.0 L769.9,495.5 L770.4,496.9 L770.8,498.3 L771.2,499.8 L771.7,501.2 L772.1,502.6 L772.6,504.1 L773.1,505.5 L773.5,506.9 L774.0,508.3 L774.5,509.8 L775.0,511.2 L775.5,512.6 L776.0,514.0 L776.5,515.4 L777.0,516.8 L777.5,518.2 L778.0,519.6 L778.6,521.0 L779.1,522.4 L779.7,523.8 L780.3,525.2 L780.8,526.6 L781.4,528.0 L782.0,529.3 L782.6,530.7 L783.2,532.1 L783.9,533.4 L784.5,534.8 L785.2,536.2 L785.8,537.5 L786.5,538.8 L787.2,540.2 L787.9,541.5 L788.6,542.8 L789.3,544.1 L790.1,545.4 L790.8,546.7 L791.6,548.0 L792.3,549.3 L793.1,550.6 L793.9,551.8 L794.8,553.1 L795.6,554.3 L796.5,555.6 L797.3,556.8 L798.2,558.0 L799.1,559.2 L800.0,560.4 L800.9,561.6 L801.9,562.8 L802.8,563.9 L803.8,565.0 L804.8,566.2 L805.8,567.3 L806.8,568.4 L807.9,569.5 L808.9,570.5 L810.0,571.6 L811.1,572.6 L812.2,573.6 L813.3,574.6 L814.4,575.6 L815.6,576.6 L816.7,577.6 L817.9,578.5 L819.1,579.4 L820.3,580.3 L821.5,581.2 L822.7,582.1 L823.9,583.0 L825.2,583.8 L826.4,584.6 L827.7,585.4 L828.9,586.2 L830.2,587.0 L831.5,587.8 L832.8,588.5 L834.1,589.2 L835.5,590.0 L836.8,590.6 L838.1,591.3 L839.5,592.0 L840.8,592.6 L842.2,593.2 L843.6,593.8 L844.9,594.4 L846.3,595.0 L847.7,595.5 L849.1,596.1 L850.5,596.6 L852.0,597.1 L853.4,597.6 L854.8,598.0 L856.2,598.4 L857.7,598.9 L859.1,599.3 L860.6,599.7 L862.0,600.0 L863.5,600.4 L864.9,600.7 L866.4,601.1 L867.9,601.4 L869.3,601.7 L870.8,602.0 L872.3,602.3 L873.8,602.5 L875.2,602.8 L876.7,603.1 L878.2,603.3 L879.7,603.6 L881.2,603.8 L882.6,604.0 L884.1,604.2 L885.6,604.4 L887.1,604.6 L888.6,604.9 L890.1,605.1 L891.5,605.3 L893.0,605.5 L894.5,605.6 L896.0,605.8 L897.5,606.0 L899.0,606.2 L900.5,606.4 L902.0,606.6 L903.4,606.8 L904.9,607.0 L906.4,607.2 L907.9,607.4 L909.4,607.6 L910.9,607.8 L912.4,607.9 L913.9,608.1 L915.3,608.3 L916.8,608.5 L918.3,608.7 L919.8,608.8 L921.3,609.0 L922.8,609.2 L924.3,609.4 L925.8,609.5 L927.3,609.7 L928.7,609.9 L930.2,610.1 L931.7,610.2 L933.2,610.4 L934.7,610.5 L936.2,610.7 L937.7,610.9 L939.2,611.0 L940.7,611.2 L942.2,611.3 L943.7,611.5 L945.2,611.6 L946.6,611.8 L948.1,611.9 L949.6,612.0 L951.1,612.2 L952.6,612.3 L954.1,612.4 L955.6,612.6 L957.1,612.7 L958.6,612.8 L960.1,612.9 L961.6,613.0 L963.1,613.2 L964.6,613.3 L966.1,613.4 L967.6,613.5 L969.1,613.6 L970.6,613.7 L972.1,613.8 L973.6,613.9 L975.1,614.0 L976.6,614.0 L978.0,614.1 L979.5,614.2 L981.0,614.3 L982.5,614.3 L984.0,614.4 L985.5,614.5 L987.0,614.5 L988.5,614.6 L990.0,614.6 L991.5,614.7 L993.0,614.7 L994.5,614.8" stroke="#cc1119" stroke-width="2.6" stroke-dasharray="7.6 7.6"/>
<path d="M101.3,548.9 L102.8,549.1 L104.3,549.3 L105.8,549.5 L107.3,549.6 L108.8,549.8 L110.3,549.9 L111.8,550.1 L113.3,550.2 L114.8,550.3 L116.3,550.4 L117.7,550.5 L119.2,550.6 L120.7,550.7 L122.2,550.8 L123.7,550.8 L125.2,550.9 L126.7,550.9 L128.2,551.0 L129.7,551.0 L131.2,551.0 L132.7,551.0 L134.2,551.0 L135.7,551.0 L137.2,551.0 L138.7,551.0 L140.2,551.0 L141.7,551.0 L143.2,550.9 L144.7,550.9 L146.2,550.8 L147.7,550.8 L149.2,550.7 L150.7,550.6 L152.2,550.5 L153.7,550.4 L155.2,550.4 L156.7,550.3 L158.2,550.1 L159.7,550.0 L161.2,549.9 L162.7,549.8 L164.2,549.7 L165.7,549.5 L167.1,549.4 L168.6,549.2 L170.1,549.1 L171.6,548.9 L173.1,548.7 L174.6,548.6 L176.1,548.4 L177.6,548.2 L179.1,548.0 L180.6,547.8 L182.0,547.6 L183.5,547.4 L185.0,547.2 L186.5,547.0 L188.0,546.8 L189.5,546.6 L190.9,546.4 L192.4,546.1 L193.9,545.9 L195.4,545.7 L196.9,545.4 L198.3,545.2 L199.8,545.0 L201.3,544.7 L202.8,544.5 L204.3,544.2 L205.7,543.9 L207.2,543.7 L208.7,543.4 L210.2,543.2 L211.6,542.9 L213.1,542.6 L214.6,542.3 L216.1,542.1 L217.5,541.8 L219.0,541.5 L220.5,541.2 L221.9,540.9 L223.4,540.6 L224.9,540.4 L226.4,540.1 L227.8,539.8 L229.3,539.5 L230.8,539.2 L232.2,538.9 L233.7,538.6 L235.2,538.3 L236.6,538.0 L238.1,537.7 L239.6,537.4 L241.0,537.1 L242.5,536.8 L244.0,536.5 L245.4,536.2 L246.9,535.9 L248.4,535.5 L249.8,535.2 L251.3,534.9 L252.8,534.6 L254.3,534.3 L255.7,534.0 L257.2,533.7 L258.7,533.4 L260.1,533.1 L261.6,532.8 L263.1,532.5 L264.5,532.2 L266.0,531.9 L267.5,531.6 L268.9,531.2 L270.4,530.9 L271.9,530.6 L273.3,530.3 L274.8,530.0 L276.3,529.7 L277.7,529.4 L279.2,529.0 L280.6,528.7 L282.1,528.4 L283.6,528.1 L285.0,527.7 L286.5,527.4 L288.0,527.1 L289.4,526.7 L290.9,526.4 L292.3,526.1 L293.8,525.7 L295.3,525.4 L296.7,525.0 L298.2,524.7 L299.6,524.3 L301.1,523.9 L302.5,523.6 L304.0,523.2 L305.4,522.8 L306.9,522.4 L308.3,522.0 L309.8,521.7 L311.2,521.3 L312.7,520.9 L314.1,520.5 L315.6,520.0 L317.0,519.6 L318.4,519.2 L319.9,518.8 L321.3,518.3 L322.7,517.9 L324.2,517.5 L325.6,517.0 L327.0,516.5 L328.4,516.1 L329.9,515.6 L331.3,515.1 L332.7,514.6 L334.1,514.2 L335.5,513.7 L337.0,513.2 L338.4,512.6 L339.8,512.1 L341.2,511.6 L342.6,511.1 L344.0,510.5 L345.4,510.0 L346.8,509.4 L348.1,508.8 L349.5,508.3 L350.9,507.7 L352.3,507.1 L353.7,506.5 L355.0,505.9 L356.4,505.3 L357.8,504.7 L359.1,504.1 L360.5,503.5 L361.9,502.8 L363.2,502.2 L364.6,501.6 L366.0,500.9 L367.3,500.3 L368.7,499.7 L370.0,499.0 L371.4,498.4 L372.7,497.7 L374.1,497.1 L375.4,496.4 L376.8,495.7 L378.1,495.1 L379.5,494.4 L380.8,493.8 L382.1,493.1 L383.5,492.4 L384.8,491.8 L386.2,491.1 L387.5,490.4 L388.9,489.8 L390.2,489.1 L391.6,488.5 L392.9,487.8 L394.2,487.1 L395.6,486.5 L396.9,485.8 L398.3,485.2 L399.6,484.5 L401.0,483.9 L402.3,483.2 L403.7,482.6 L405.0,481.9 L406.4,481.3 L407.8,480.6 L409.1,480.0 L410.5,479.4 L411.8,478.8 L413.2,478.1 L414.6,477.5 L415.9,476.9 L417.3,476.3 L418.7,475.7 L420.0,475.0 L421.4,474.4 L422.8,473.8 L424.1,473.2 L425.5,472.6 L426.9,472.0 L428.2,471.4 L429.6,470.8 L431.0,470.2 L432.4,469.6 L433.7,469.0 L435.1,468.4 L436.5,467.8 L437.9,467.2 L439.2,466.6 L440.6,466.0 L442.0,465.4 L443.4,464.8 L444.7,464.2 L446.1,463.6 L447.5,463.0 L448.9,462.4 L450.3,461.9 L451.6,461.3 L453.0,460.7 L454.4,460.1 L455.8,459.5 L457.1,458.9 L458.5,458.3 L459.9,457.7 L461.3,457.1 L462.6,456.5 L464.0,455.9 L465.4,455.3 L466.7,454.7 L468.1,454.1 L469.5,453.5 L470.9,452.8 L472.2,452.2 L473.6,451.6 L475.0,451.0 L476.3,450.4 L477.7,449.8 L479.0,449.1 L480.4,448.5 L481.8,447.9 L483.1,447.2 L484.5,446.6 L485.8,445.9 L487.2,445.3 L488.5,444.6 L489.8,443.9 L491.2,443.2 L492.5,442.6 L493.8,441.9 L495.2,441.2 L496.5,440.5 L497.8,439.7 L499.1,439.0 L500.4,438.3 L501.7,437.5 L503.0,436.8 L504.3,436.0 L505.6,435.2 L506.9,434.5 L508.2,433.7 L509.4,432.9 L510.7,432.1 L511.9,431.2 L513.2,430.4 L514.4,429.6 L515.6,428.7 L516.9,427.8 L518.1,426.9 L519.3,426.1 L520.5,425.1 L521.7,424.2 L522.8,423.3 L524.0,422.4 L525.2,421.4 L526.3,420.4 L527.4,419.5 L528.6,418.5 L529.7,417.5 L530.8,416.5 L531.9,415.4 L533.0,414.4 L534.1,413.4 L535.1,412.3 L536.2,411.3 L537.3,410.2 L538.4,409.2 L539.4,408.1 L540.5,407.1 L541.6,406.0 L542.6,405.0 L543.7,403.9 L544.8,402.9 L545.9,401.9 L546.9,400.8 L548.0,399.8 L549.2,398.8 L550.3,397.8 L551.4,396.8 L552.5,395.8 L553.7,394.9 L554.9,393.9 L556.1,393.0 L557.3,392.1 L558.5,391.3 L559.7,390.4 L561.0,389.6 L562.3,388.8 L563.6,388.1 L564.9,387.4 L566.2,386.7 L567.6,386.1 L569.0,385.6 L570.4,385.0 L571.8,384.6 L573.3,384.2 L574.7,383.8 L576.2,383.6 L577.7,383.4 L579.2,383.2 L580.7,383.1 L582.2,383.1 L583.7,383.1 L585.2,383.2 L586.7,383.4 L588.1,383.6 L589.6,383.8 L591.1,384.2 L592.5,384.5 L594.0,385.0 L595.4,385.5 L596.8,386.1 L598.1,386.7 L599.4,387.4 L600.7,388.1 L602.0,389.0 L603.2,389.8 L604.4,390.8 L605.5,391.8 L606.6,392.8 L607.7,393.8 L608.7,394.9 L609.7,396.0 L610.7,397.2 L611.7,398.3 L612.6,399.5 L613.5,400.7 L614.4,401.9 L615.3,403.1 L616.2,404.3 L617.1,405.5 L618.0,406.7 L618.9,407.9 L619.8,409.1 L620.7,410.2 L621.7,411.4 L622.6,412.6 L623.6,413.7 L624.6,414.9 L625.5,416.0 L626.5,417.1 L627.5,418.2 L628.5,419.3 L629.5,420.5 L630.6,421.6 L631.6,422.7 L632.6,423.8 L633.6,424.9 L634.6,426.0 L635.6,427.1 L636.6,428.2 L637.6,429.3 L638.6,430.5 L639.6,431.6 L640.5,432.8 L641.5,433.9 L642.4,435.1 L643.3,436.3 L644.3,437.5 L645.2,438.6 L646.1,439.8 L647.0,441.0 L648.0,442.1 L648.9,443.3 L649.9,444.4 L650.9,445.6 L651.9,446.6 L653.0,447.7 L654.1,448.8 L655.2,449.8 L656.3,450.7 L657.5,451.6 L658.8,452.5 L660.1,453.2 L661.4,454.0 L662.7,454.6 L664.1,455.1 L665.6,455.6 L667.0,456.0 L668.5,456.3 L670.0,456.5 L671.5,456.6 L673.0,456.7 L674.5,456.7 L675.9,456.6 L677.4,456.5 L678.9,456.3 L680.4,456.0 L681.9,455.6 L683.3,455.2 L684.7,454.7 L686.1,454.1 L687.4,453.4 L688.7,452.7 L690.0,451.9 L691.2,451.0 L692.3,450.1 L693.5,449.1 L694.5,448.0 L695.6,446.9 L696.6,445.8 L697.5,444.7 L698.4,443.5 L699.3,442.3 L700.2,441.0 L701.0,439.8 L701.8,438.5 L702.6,437.2 L703.4,435.9 L704.1,434.6 L704.9,433.3 L705.6,432.0 L706.3,430.7 L707.0,429.4 L707.7,428.1 L708.4,426.8 L709.1,425.4 L709.8,424.1 L710.5,422.8 L711.2,421.4 L711.8,420.1 L712.5,418.7 L713.1,417.4 L713.8,416.0 L714.4,414.7 L715.1,413.3 L715.7,412.0 L716.3,410.6 L716.9,409.2 L717.5,407.9 L718.1,406.5 L718.7,405.1 L719.3,403.7 L719.9,402.3 L720.5,401.0 L721.0,399.6 L721.6,398.2 L722.2,396.8 L722.7,395.4 L723.3,394.0 L723.8,392.6 L724.4,391.2 L724.9,389.8 L725.4,388.4 L725.9,387.0 L726.4,385.6 L727.0,384.2 L727.5,382.8 L728.0,381.4 L728.4,379.9 L728.9,378.5 L729.4,377.1 L729.9,375.7 L730.4,374.3 L730.8,372.8 L731.3,371.4 L731.8,370.0 L732.2,368.6 L732.7,367.1 L733.1,365.7 L733.6,364.3 L734.0,362.8 L734.4,361.4 L734.9,360.0 L735.3,358.5 L735.7,357.1 L736.1,355.6 L736.6,354.2 L737.0,352.8 L737.4,351.3 L737.8,349.9 L738.2,348.4 L738.6,347.0 L739.0,345.5 L739.4,344.1 L739.7,342.6 L740.1,341.2 L740.5,339.8 L740.9,338.3 L741.3,336.9 L741.6,335.4 L742.0,333.9 L742.4,332.5 L742.8,331.0 L743.1,329.6 L743.5,328.1 L743.8,326.7 L744.2,325.2 L744.6,323.8 L744.9,322.3 L745.3,320.9 L745.6,319.4 L746.0,317.9 L746.3,316.5 L746.7,315.0 L747.0,313.6 L747.3,312.1 L747.7,310.6 L748.0,309.2 L748.4,307.7 L748.7,306.3 L749.0,304.8 L749.4,303.3 L749.7,301.9 L750.0,300.4 L750.4,299.0 L750.7,297.5 L751.0,296.0 L751.4,294.6 L751.7,293.1 L752.0,291.6 L752.3,290.2 L752.7,288.7 L753.0,287.3 L753.3,285.8 L753.6,284.3 L754.0,282.9 L754.3,281.4 L754.6,279.9 L754.9,278.5 L755.2,277.0 L755.5,275.5 L755.9,274.1 L756.2,272.6 L756.5,271.1 L756.8,269.7 L757.1,268.2 L757.4,266.7 L757.7,265.3 L758.0,263.8 L758.3,262.3 L758.6,260.9 L759.0,259.4 L759.3,257.9 L759.6,256.5 L759.9,255.0 L760.2,253.5 L760.5,252.1 L760.8,250.6 L761.1,249.1 L761.4,247.7 L761.7,246.2 L762.0,244.7 L762.3,243.2 L762.6,241.8 L762.9,240.3 L763.2,238.8 L763.4,237.4 L763.7,235.9 L764.0,234.4 L764.3,233.0 L764.6,231.5 L764.9,230.0 L765.2,228.6 L765.5,227.1 L765.8,225.6 L766.1,224.1 L766.4,222.7 L766.7,221.2 L766.9,219.7 L767.2,218.3 L767.5,216.8 L767.8,215.3 L768.1,213.8 L768.4,212.4 L768.7,210.9 L769.0,209.4 L769.2,208.0 L769.5,206.5 L769.8,205.0 L770.1,203.5 L770.4,202.1 L770.7,200.6 L770.9,199.1 L771.2,197.7 L771.5,196.2 L771.8,194.7 L772.1,193.2 L772.4,191.8 L772.6,190.3 L772.9,188.8 L773.2,187.3 L773.5,185.9 L773.8,184.4 L774.0,182.9 L774.3,181.5 L774.6,180.0 L774.9,178.5 L775.2,177.0 L775.4,175.6 L775.7,174.1 L776.0,172.6 L776.3,171.1 L776.6,169.7 L776.8,168.2 L777.1,166.7 L777.4,165.3 L777.7,163.8 L778.0,162.3 L778.2,160.8 L778.5,159.4 L778.8,157.9 L779.1,156.4 L779.4,155.0 L779.7,153.5 L779.9,152.0 L780.2,150.5 L780.5,149.1 L780.8,147.6 L781.1,146.1 L781.4,144.6 L781.6,143.2 L781.9,141.7 L782.2,140.2 L782.5,138.8 L782.8,137.3 L783.1,135.8 L783.3,134.3 L783.6,132.9 L783.9,131.4 L784.2,129.9 L784.5,128.5 L784.8,127.0 L785.1,125.5 L785.4,124.0 L785.7,122.6 L786.0,121.1 L786.2,119.6 L786.5,118.2 L786.8,116.7 L787.1,115.2 L787.4,113.8 L787.7,112.3 L788.0,110.8 L788.3,109.4 L788.6,107.9 L788.9,106.4 L789.2,104.9 L789.5,103.5 L789.8,102.0 L790.1,100.5 L790.4,99.1 L790.7,97.6 L791.0,96.1 L791.3,94.7 L791.7,93.2 L792.0,91.7 L792.3,90.3 L792.6,88.8 L792.9,87.3 L793.2,85.9 L793.5,84.4 L793.8,82.9 L794.2,81.5 L794.5,80.0 L794.8,78.5 L795.1,77.1 L795.5,75.6 L795.8,74.2 L796.1,72.7 L796.4,71.2 L796.8,69.8 L797.1,68.3 L797.5,66.9 L797.8,65.4 L798.1,63.9 L798.5,62.5 L798.8,61.0 L799.2,59.6 L799.5,58.1 L799.9,56.6 L800.3,55.2 L800.6,53.7 L801.0,52.3 L801.4,50.8 L801.8,49.4 L802.2,48.0 L802.6,46.5 L803.0,45.1 L803.5,43.6 L803.9,42.2 L804.4,40.8 L804.9,39.4 L805.4,38.0 L805.9,36.6 L806.5,35.2 L807.0,33.8 L807.6,32.4 L808.2,31.0 L808.9,29.7 L809.5,28.3 L810.2,27.0 L810.9,25.7 L811.6,24.4 L812.4,23.1 L813.2,21.8 L814.0,20.5 L814.8,19.3 L815.7,18.1 L816.6,16.9 L817.7,15.8 L818.8,14.9 L820.2,14.2 L821.6,13.9 L823.1,14.1 L824.5,14.6 L825.8,15.4 L827.0,16.3 L828.1,17.3 L829.1,18.4 L830.0,19.6 L830.9,20.8 L831.6,22.1 L832.2,23.5 L832.8,24.9 L833.3,26.3 L833.8,27.7 L834.2,29.2 L834.6,30.6 L835.0,32.1 L835.3,33.5 L835.7,35.0 L836.1,36.4 L836.5,37.9 L836.9,39.3 L837.2,40.8 L837.6,42.2 L838.0,43.7 L838.3,45.1 L838.7,46.6 L839.1,48.0 L839.4,49.5 L839.8,50.9 L840.1,52.4 L840.5,53.9 L840.8,55.3 L841.2,56.8 L841.5,58.2 L841.9,59.7 L842.2,61.1 L842.6,62.6 L842.9,64.1 L843.2,65.5 L843.6,67.0 L843.9,68.5 L844.2,69.9 L844.5,71.4 L844.9,72.8 L845.2,74.3 L845.5,75.8 L845.8,77.2 L846.1,78.7 L846.5,80.2 L846.8,81.6 L847.1,83.1 L847.4,84.6 L847.7,86.0 L848.0,87.5 L848.3,89.0 L848.6,90.4 L848.9,91.9 L849.2,93.4 L849.5,94.9 L849.7,96.3 L850.0,97.8 L850.3,99.3 L850.6,100.7 L850.9,102.2 L851.2,103.7 L851.4,105.2 L851.7,106.6 L852.0,108.1 L852.3,109.6 L852.5,111.1 L852.8,112.5 L853.1,114.0 L853.3,115.5 L853.6,117.0 L853.8,118.4 L854.1,119.9 L854.4,121.4 L854.6,122.9 L854.9,124.3 L855.1,125.8 L855.4,127.3 L855.6,128.8 L855.9,130.3 L856.1,131.7 L856.4,133.2 L856.6,134.7 L856.9,136.2 L857.1,137.6 L857.3,139.1 L857.6,140.6 L857.8,142.1 L858.0,143.6 L858.3,145.0 L858.5,146.5 L858.7,148.0 L859.0,149.5 L859.2,151.0 L859.4,152.5 L859.7,153.9 L859.9,155.4 L860.1,156.9 L860.3,158.4 L860.6,159.9 L860.8,161.3 L861.0,162.8 L861.2,164.3 L861.4,165.8 L861.7,167.3 L861.9,168.8 L862.1,170.2 L862.3,171.7 L862.5,173.2 L862.7,174.7 L862.9,176.2 L863.2,177.7 L863.4,179.1 L863.6,180.6 L863.8,182.1 L864.0,183.6 L864.2,185.1 L864.4,186.6 L864.6,188.1 L864.8,189.5 L865.0,191.0 L865.2,192.5 L865.4,194.0 L865.6,195.5 L865.8,197.0 L866.0,198.5 L866.2,199.9 L866.4,201.4 L866.6,202.9 L866.8,204.4 L867.0,205.9 L867.2,207.4 L867.4,208.9 L867.6,210.3 L867.8,211.8 L868.0,213.3 L868.2,214.8 L868.4,216.3 L868.6,217.8 L868.8,219.3 L869.0,220.7 L869.2,222.2 L869.4,223.7 L869.6,225.2 L869.8,226.7 L870.0,228.2 L870.2,229.7 L870.4,231.1 L870.6,232.6 L870.8,234.1 L871.0,235.6 L871.2,237.1 L871.4,238.6 L871.6,240.1 L871.7,241.5 L871.9,243.0 L872.1,244.5 L872.3,246.0 L872.5,247.5 L872.7,249.0 L872.9,250.5 L873.1,251.9 L873.3,253.4 L873.5,254.9 L873.7,256.4 L873.9,257.9 L874.1,259.4 L874.3,260.9 L874.5,262.3 L874.7,263.8 L874.9,265.3 L875.1,266.8 L875.3,268.3 L875.5,269.8 L875.7,271.3 L875.9,272.7 L876.1,274.2 L876.3,275.7 L876.5,277.2 L876.7,278.7 L876.9,280.2 L877.1,281.7 L877.3,283.1 L877.5,284.6 L877.7,286.1 L877.9,287.6 L878.1,289.1 L878.3,290.6 L878.5,292.1 L878.7,293.5 L878.9,295.0 L879.1,296.5 L879.3,298.0 L879.6,299.5 L879.8,301.0 L880.0,302.5 L880.2,303.9 L880.4,305.4 L880.6,306.9 L880.8,308.4 L881.0,309.9 L881.2,311.4 L881.4,312.8 L881.6,314.3 L881.8,315.8 L882.0,317.3 L882.2,318.8 L882.5,320.3 L882.7,321.8 L882.9,323.2 L883.1,324.7 L883.3,326.2 L883.5,327.7 L883.7,329.2 L883.9,330.7 L884.1,332.1 L884.4,333.6 L884.6,335.1 L884.8,336.6 L885.0,338.1 L885.2,339.6 L885.4,341.0 L885.6,342.5 L885.9,344.0 L886.1,345.5 L886.3,347.0 L886.5,348.5 L886.7,349.9 L886.9,351.4 L887.1,352.9 L887.4,354.4 L887.6,355.9 L887.8,357.4 L888.0,358.8 L888.2,360.3 L888.5,361.8 L888.7,363.3 L888.9,364.8 L889.1,366.3 L889.3,367.7 L889.6,369.2 L889.8,370.7 L890.0,372.2 L890.2,373.7 L890.4,375.2 L890.7,376.6 L890.9,378.1 L891.1,379.6 L891.3,381.1 L891.6,382.6 L891.8,384.0 L892.0,385.5 L892.2,387.0 L892.5,388.5 L892.7,390.0 L892.9,391.5 L893.1,392.9 L893.4,394.4 L893.6,395.9 L893.8,397.4 L894.0,398.9 L894.3,400.3 L894.5,401.8 L894.7,403.3 L895.0,404.8 L895.2,406.3 L895.4,407.8 L895.7,409.2 L895.9,410.7 L896.1,412.2 L896.3,413.7 L896.6,415.2 L896.8,416.6 L897.0,418.1 L897.3,419.6 L897.5,421.1 L897.8,422.6 L898.0,424.0 L898.2,425.5 L898.5,427.0 L898.7,428.5 L898.9,430.0 L899.2,431.4 L899.4,432.9 L899.6,434.4 L899.9,435.9 L900.1,437.4 L900.4,438.8 L900.6,440.3 L900.9,441.8 L901.1,443.3 L901.4,444.8 L901.6,446.2 L901.8,447.7 L902.1,449.2 L902.4,450.7 L902.6,452.1 L902.9,453.6 L903.1,455.1 L903.4,456.6 L903.6,458.1 L903.9,459.5 L904.2,461.0 L904.4,462.5 L904.7,464.0 L905.0,465.4 L905.2,466.9 L905.5,468.4 L905.8,469.9 L906.1,471.3 L906.3,472.8 L906.6,474.3 L906.9,475.7 L907.2,477.2 L907.5,478.7 L907.8,480.2 L908.1,481.6 L908.4,483.1 L908.7,484.6 L909.0,486.0 L909.3,487.5 L909.6,489.0 L909.9,490.4 L910.2,491.9 L910.5,493.4 L910.8,494.8 L911.2,496.3 L911.5,497.8 L911.8,499.2 L912.2,500.7 L912.5,502.1 L912.8,503.6 L913.2,505.1 L913.5,506.5 L913.9,508.0 L914.2,509.4 L914.6,510.9 L914.9,512.3 L915.3,513.8 L915.7,515.2 L916.1,516.7 L916.4,518.1 L916.8,519.6 L917.2,521.0 L917.6,522.5 L918.0,523.9 L918.4,525.4 L918.8,526.8 L919.2,528.3 L919.6,529.7 L920.0,531.2 L920.4,532.6 L920.9,534.0 L921.3,535.5 L921.7,536.9 L922.2,538.3 L922.6,539.8 L923.0,541.2 L923.5,542.6 L924.0,544.1 L924.4,545.5 L924.9,546.9 L925.4,548.3 L925.8,549.7 L926.3,551.2 L926.8,552.6 L927.3,554.0 L927.8,555.4 L928.3,556.8 L928.8,558.2 L929.3,559.6 L929.8,561.0 L930.4,562.5 L930.9,563.9 L931.4,565.3 L932.0,566.7 L932.5,568.0 L933.1,569.4 L933.6,570.8 L934.2,572.2 L934.8,573.6 L935.4,575.0 L935.9,576.4 L936.5,577.7 L937.1,579.1 L937.7,580.5 L938.3,581.9 L939.0,583.2 L939.6,584.6 L940.2,586.0 L940.8,587.3 L941.5,588.7 L942.1,590.0 L942.8,591.4 L943.4,592.7 L944.1,594.1 L944.8,595.4 L945.5,596.7 L946.2,598.0 L946.9,599.3 L947.7,600.6 L948.5,601.9 L949.2,603.2 L950.1,604.5 L950.9,605.7 L951.7,606.9 L952.6,608.2 L953.5,609.4 L954.5,610.5 L955.4,611.7 L956.4,612.8 L957.4,613.9 L958.5,615.0 L959.5,616.0 L960.6,617.0 L961.8,618.0 L962.9,619.0 L964.0,620.0 L965.2,620.9 L966.4,621.9 L967.6,622.8 L968.7,623.7 L969.9,624.6 L971.1,625.5 L972.3,626.4 L973.5,627.3 L974.7,628.2 L975.9,629.2 L977.1,630.1 L978.2,631.0 L979.4,632.0 L980.5,632.9 L981.7,633.9 L982.8,635.0 L983.9,636.0 L984.9,637.1" stroke="#5f9231" stroke-width="3.6" stroke-dasharray="3.6 4.0"/>
<path d="M101.5,508.5 L102.9,508.7 L104.4,508.9 L105.9,509.1 L107.4,509.2 L108.9,509.3 L110.4,509.5 L111.9,509.6 L113.4,509.7 L114.9,509.9 L116.4,510.0 L117.9,510.1 L119.4,510.2 L120.9,510.2 L122.4,510.3 L123.9,510.4 L125.4,510.5 L126.9,510.5 L128.4,510.6 L129.9,510.6 L131.4,510.6 L132.8,510.7 L134.3,510.7 L135.8,510.7 L137.3,510.7 L138.8,510.7 L140.3,510.7 L141.8,510.7 L143.3,510.7 L144.8,510.7 L146.3,510.7 L147.8,510.6 L149.3,510.6 L150.8,510.5 L152.3,510.5 L153.8,510.4 L155.3,510.4 L156.8,510.3 L158.3,510.2 L159.8,510.1 L161.3,510.1 L162.8,510.0 L164.3,509.9 L165.8,509.8 L167.3,509.7 L168.8,509.5 L170.3,509.4 L171.8,509.3 L173.3,509.2 L174.8,509.0 L176.3,508.9 L177.8,508.7 L179.3,508.6 L180.7,508.4 L182.2,508.3 L183.7,508.1 L185.2,508.0 L186.7,507.8 L188.2,507.6 L189.7,507.4 L191.2,507.2 L192.7,507.0 L194.1,506.8 L195.6,506.6 L197.1,506.4 L198.6,506.2 L200.1,506.0 L201.6,505.8 L203.0,505.6 L204.5,505.4 L206.0,505.1 L207.5,504.9 L209.0,504.7 L210.5,504.4 L211.9,504.2 L213.4,503.9 L214.9,503.7 L216.4,503.4 L217.8,503.2 L219.3,502.9 L220.8,502.6 L222.3,502.4 L223.7,502.1 L225.2,501.8 L226.7,501.5 L228.2,501.3 L229.6,501.0 L231.1,500.7 L232.6,500.4 L234.0,500.1 L235.5,499.8 L237.0,499.5 L238.5,499.2 L239.9,498.9 L241.4,498.6 L242.9,498.3 L244.3,498.0 L245.8,497.7 L247.3,497.4 L248.7,497.0 L250.2,496.7 L251.7,496.4 L253.1,496.1 L254.6,495.7 L256.0,495.4 L257.5,495.1 L259.0,494.8 L260.4,494.4 L261.9,494.1 L263.4,493.7 L264.8,493.4 L266.3,493.1 L267.7,492.7 L269.2,492.4 L270.6,492.0 L272.1,491.6 L273.6,491.3 L275.0,490.9 L276.5,490.5 L277.9,490.2 L279.4,489.8 L280.8,489.4 L282.3,489.0 L283.7,488.6 L285.1,488.2 L286.6,487.8 L288.0,487.4 L289.5,487.0 L290.9,486.6 L292.4,486.2 L293.8,485.8 L295.2,485.3 L296.7,484.9 L298.1,484.5 L299.6,484.1 L301.0,483.7 L302.4,483.3 L303.9,482.9 L305.3,482.5 L306.8,482.1 L308.2,481.7 L309.7,481.3 L311.1,480.9 L312.6,480.5 L314.0,480.1 L315.5,479.8 L316.9,479.4 L318.4,479.0 L319.8,478.6 L321.3,478.2 L322.7,477.9 L324.2,477.5 L325.6,477.1 L327.1,476.7 L328.5,476.3 L330.0,475.9 L331.4,475.6 L332.9,475.2 L334.3,474.8 L335.8,474.4 L337.2,474.0 L338.6,473.6 L340.1,473.1 L341.5,472.7 L343.0,472.3 L344.4,471.9 L345.8,471.4 L347.3,471.0 L348.7,470.5 L350.1,470.0 L351.5,469.6 L353.0,469.1 L354.4,468.6 L355.8,468.1 L357.2,467.6 L358.6,467.1 L360.0,466.5 L361.4,466.0 L362.8,465.5 L364.2,464.9 L365.6,464.4 L367.0,463.8 L368.4,463.3 L369.8,462.7 L371.1,462.1 L372.5,461.5 L373.9,460.9 L375.3,460.3 L376.7,459.7 L378.0,459.1 L379.4,458.5 L380.8,457.9 L382.1,457.3 L383.5,456.6 L384.8,456.0 L386.2,455.4 L387.5,454.7 L388.9,454.1 L390.2,453.4 L391.6,452.8 L392.9,452.1 L394.3,451.4 L395.6,450.8 L397.0,450.1 L398.3,449.4 L399.6,448.7 L401.0,448.1 L402.3,447.4 L403.6,446.7 L405.0,446.0 L406.3,445.3 L407.6,444.6 L409.0,443.9 L410.3,443.2 L411.6,442.5 L412.9,441.8 L414.3,441.1 L415.6,440.4 L416.9,439.7 L418.2,439.0 L419.6,438.3 L420.9,437.6 L422.2,436.9 L423.5,436.1 L424.8,435.4 L426.2,434.7 L427.5,434.0 L428.8,433.3 L430.1,432.6 L431.4,431.9 L432.8,431.2 L434.1,430.5 L435.4,429.7 L436.7,429.0 L438.0,428.3 L439.4,427.6 L440.7,426.9 L442.0,426.2 L443.3,425.5 L444.6,424.8 L446.0,424.1 L447.3,423.4 L448.6,422.7 L449.9,422.0 L451.3,421.3 L452.6,420.6 L453.9,419.9 L455.2,419.2 L456.6,418.5 L457.9,417.7 L459.2,417.0 L460.5,416.3 L461.8,415.6 L463.2,414.9 L464.5,414.2 L465.8,413.5 L467.1,412.8 L468.4,412.1 L469.8,411.4 L471.1,410.6 L472.4,409.9 L473.7,409.2 L475.0,408.5 L476.3,407.8 L477.7,407.0 L479.0,406.3 L480.3,405.6 L481.6,404.9 L482.9,404.1 L484.2,403.4 L485.5,402.7 L486.8,401.9 L488.1,401.2 L489.4,400.4 L490.7,399.7 L492.0,398.9 L493.3,398.2 L494.6,397.4 L495.9,396.7 L497.2,395.9 L498.5,395.2 L499.8,394.4 L501.1,393.6 L502.4,392.9 L503.6,392.1 L504.9,391.3 L506.2,390.5 L507.5,389.7 L508.8,389.0 L510.0,388.2 L511.3,387.4 L512.6,386.6 L513.8,385.8 L515.1,385.0 L516.4,384.1 L517.6,383.3 L518.9,382.5 L520.1,381.7 L521.4,380.8 L522.6,380.0 L523.9,379.2 L525.1,378.3 L526.3,377.5 L527.6,376.6 L528.8,375.8 L530.0,374.9 L531.2,374.0 L532.5,373.2 L533.7,372.3 L534.9,371.4 L536.1,370.5 L537.3,369.6 L538.5,368.7 L539.7,367.8 L540.9,366.9 L542.1,366.0 L543.3,365.1 L544.5,364.2 L545.6,363.2 L546.8,362.3 L548.0,361.4 L549.1,360.4 L550.3,359.5 L551.5,358.6 L552.7,357.6 L553.8,356.7 L555.0,355.8 L556.2,354.9 L557.4,353.9 L558.6,353.0 L559.8,352.2 L561.0,351.3 L562.2,350.4 L563.5,349.6 L564.7,348.7 L566.0,347.9 L567.2,347.1 L568.5,346.3 L569.8,345.6 L571.1,344.8 L572.4,344.1 L573.8,343.4 L575.1,342.8 L576.5,342.1 L577.8,341.5 L579.2,340.9 L580.6,340.4 L582.0,339.9 L583.5,339.4 L584.9,339.0 L586.3,338.6 L587.8,338.3 L589.3,338.0 L590.8,337.7 L592.2,337.6 L593.7,337.4 L595.2,337.4 L596.7,337.4 L598.2,337.4 L599.7,337.6 L601.2,337.7 L602.7,338.0 L604.2,338.3 L605.6,338.6 L607.1,339.0 L608.5,339.4 L609.9,339.9 L611.3,340.4 L612.7,341.0 L614.1,341.5 L615.5,342.2 L616.8,342.8 L618.2,343.5 L619.5,344.2 L620.8,344.9 L622.1,345.7 L623.4,346.4 L624.7,347.2 L625.9,348.0 L627.2,348.9 L628.4,349.7 L629.6,350.6 L630.9,351.4 L632.1,352.3 L633.3,353.2 L634.4,354.2 L635.6,355.1 L636.8,356.0 L637.9,357.0 L639.1,357.9 L640.2,358.9 L641.4,359.9 L642.5,360.8 L643.7,361.8 L644.8,362.8 L646.0,363.7 L647.1,364.7 L648.3,365.6 L649.5,366.5 L650.7,367.4 L652.0,368.3 L653.2,369.1 L654.5,369.9 L655.8,370.6 L657.1,371.4 L658.4,372.0 L659.8,372.6 L661.2,373.2 L662.6,373.7 L664.0,374.2 L665.5,374.6 L666.9,375.0 L668.4,375.3 L669.8,375.6 L671.3,375.8 L672.8,376.0 L674.3,376.1 L675.8,376.1 L677.3,376.2 L678.8,376.1 L680.3,376.0 L681.8,375.8 L683.3,375.6 L684.7,375.3 L686.2,374.9 L687.6,374.5 L689.0,374.0 L690.4,373.4 L691.8,372.8 L693.1,372.1 L694.4,371.4 L695.7,370.6 L696.9,369.7 L698.1,368.8 L699.3,367.9 L700.5,367.0 L701.6,366.0 L702.7,364.9 L703.8,363.9 L704.8,362.8 L705.8,361.7 L706.8,360.6 L707.8,359.5 L708.7,358.3 L709.7,357.1 L710.6,355.9 L711.5,354.8 L712.4,353.5 L713.3,352.3 L714.2,351.1 L715.0,349.9 L715.9,348.6 L716.7,347.4 L717.5,346.2 L718.3,344.9 L719.2,343.6 L720.0,342.4 L720.8,341.1 L721.5,339.8 L722.3,338.5 L723.1,337.2 L723.8,336.0 L724.6,334.7 L725.3,333.4 L726.1,332.0 L726.8,330.7 L727.5,329.4 L728.2,328.1 L728.9,326.8 L729.6,325.4 L730.3,324.1 L730.9,322.8 L731.6,321.4 L732.3,320.1 L732.9,318.7 L733.6,317.4 L734.2,316.0 L734.8,314.6 L735.4,313.3 L736.0,311.9 L736.6,310.5 L737.2,309.2 L737.8,307.8 L738.4,306.4 L739.0,305.0 L739.6,303.6 L740.1,302.2 L740.7,300.8 L741.2,299.4 L741.8,298.0 L742.3,296.6 L742.8,295.2 L743.4,293.8 L743.9,292.4 L744.4,291.0 L744.9,289.6 L745.4,288.2 L745.9,286.8 L746.4,285.4 L746.9,284.0 L747.4,282.5 L747.9,281.1 L748.3,279.7 L748.8,278.3 L749.3,276.8 L749.7,275.4 L750.2,274.0 L750.6,272.6 L751.1,271.1 L751.5,269.7 L752.0,268.3 L752.4,266.8 L752.9,265.4 L753.3,264.0 L753.7,262.5 L754.2,261.1 L754.6,259.7 L755.0,258.2 L755.5,256.8 L755.9,255.4 L756.3,253.9 L756.7,252.5 L757.1,251.0 L757.5,249.6 L758.0,248.1 L758.4,246.7 L758.8,245.3 L759.2,243.8 L759.6,242.4 L760.0,240.9 L760.4,239.5 L760.8,238.0 L761.2,236.6 L761.6,235.2 L762.0,233.7 L762.4,232.3 L762.7,230.8 L763.1,229.4 L763.5,227.9 L763.9,226.5 L764.3,225.0 L764.7,223.6 L765.1,222.1 L765.4,220.7 L765.8,219.2 L766.2,217.8 L766.6,216.3 L766.9,214.9 L767.3,213.4 L767.7,212.0 L768.1,210.5 L768.4,209.0 L768.8,207.6 L769.2,206.1 L769.5,204.7 L769.9,203.2 L770.3,201.8 L770.6,200.3 L771.0,198.9 L771.3,197.4 L771.7,196.0 L772.1,194.5 L772.4,193.0 L772.8,191.6 L773.1,190.1 L773.5,188.7 L773.9,187.2 L774.2,185.8 L774.6,184.3 L774.9,182.9 L775.3,181.4 L775.6,179.9 L776.0,178.5 L776.3,177.0 L776.7,175.6 L777.0,174.1 L777.4,172.7 L777.7,171.2 L778.1,169.7 L778.4,168.3 L778.8,166.8 L779.1,165.4 L779.5,163.9 L779.8,162.4 L780.2,161.0 L780.5,159.5 L780.9,158.1 L781.2,156.6 L781.5,155.2 L781.9,153.7 L782.2,152.2 L782.6,150.8 L782.9,149.3 L783.3,147.9 L783.6,146.4 L784.0,144.9 L784.3,143.5 L784.7,142.0 L785.0,140.6 L785.4,139.1 L785.7,137.6 L786.1,136.2 L786.4,134.7 L786.8,133.3 L787.1,131.8 L787.5,130.4 L787.8,128.9 L788.2,127.4 L788.5,126.0 L788.9,124.5 L789.2,123.1 L789.6,121.6 L789.9,120.2 L790.3,118.7 L790.6,117.2 L791.0,115.8 L791.3,114.3 L791.7,112.9 L792.0,111.4 L792.4,110.0 L792.8,108.5 L793.1,107.0 L793.5,105.6 L793.8,104.1 L794.2,102.7 L794.6,101.2 L794.9,99.8 L795.3,98.3 L795.6,96.9 L796.0,95.4 L796.3,93.9 L796.7,92.5 L797.1,91.0 L797.4,89.6 L797.8,88.1 L798.1,86.7 L798.5,85.2 L798.8,83.8 L799.2,82.3 L799.5,80.8 L799.9,79.4 L800.3,77.9 L800.6,76.5 L801.0,75.0 L801.3,73.6 L801.7,72.1 L802.0,70.6 L802.4,69.2 L802.7,67.7 L803.1,66.3 L803.4,64.8 L803.8,63.3 L804.1,61.9 L804.5,60.4 L804.8,59.0 L805.1,57.5 L805.5,56.1 L805.8,54.6 L806.2,53.1 L806.6,51.7 L806.9,50.2 L807.3,48.8 L807.7,47.3 L808.1,45.9 L808.5,44.5 L809.0,43.0 L809.5,41.6 L810.0,40.2 L810.5,38.8 L811.0,37.4 L811.6,36.0 L812.2,34.6 L812.8,33.3 L813.5,31.9 L814.2,30.6 L814.9,29.3 L815.7,28.0 L816.5,26.7 L817.3,25.5 L818.2,24.3 L819.1,23.1 L820.1,22.0 L821.1,20.9 L822.2,19.8 L823.2,18.7 L824.4,17.8 L825.6,16.8 L826.8,16.1 L828.2,15.4 L829.6,15.0 L831.1,14.9 L832.6,15.0 L834.1,15.4 L835.4,16.0 L836.7,16.7 L838.0,17.6 L839.1,18.6 L840.2,19.6 L841.1,20.8 L842.0,22.0 L842.7,23.3 L843.4,24.6 L844.1,26.0 L844.7,27.4 L845.2,28.8 L845.8,30.2 L846.3,31.6 L846.8,33.0 L847.3,34.4 L847.8,35.8 L848.3,37.2 L848.8,38.6 L849.3,40.0 L849.7,41.5 L850.2,42.9 L850.6,44.3 L851.1,45.8 L851.5,47.2 L851.9,48.6 L852.3,50.1 L852.7,51.5 L853.1,53.0 L853.5,54.4 L853.9,55.9 L854.3,57.3 L854.7,58.8 L855.0,60.2 L855.4,61.7 L855.8,63.1 L856.1,64.6 L856.5,66.0 L856.8,67.5 L857.2,69.0 L857.5,70.4 L857.8,71.9 L858.2,73.3 L858.5,74.8 L858.8,76.3 L859.2,77.7 L859.5,79.2 L859.8,80.7 L860.2,82.1 L860.5,83.6 L860.8,85.0 L861.1,86.5 L861.4,88.0 L861.8,89.4 L862.1,90.9 L862.4,92.4 L862.7,93.8 L863.0,95.3 L863.3,96.8 L863.6,98.2 L863.9,99.7 L864.2,101.2 L864.5,102.6 L864.8,104.1 L865.1,105.6 L865.4,107.1 L865.7,108.5 L866.0,110.0 L866.3,111.5 L866.6,112.9 L866.9,114.4 L867.2,115.9 L867.5,117.3 L867.8,118.8 L868.1,120.3 L868.3,121.8 L868.6,123.2 L868.9,124.7 L869.2,126.2 L869.5,127.6 L869.8,129.1 L870.0,130.6 L870.3,132.1 L870.6,133.5 L870.9,135.0 L871.1,136.5 L871.4,138.0 L871.7,139.4 L872.0,140.9 L872.2,142.4 L872.5,143.9 L872.8,145.3 L873.0,146.8 L873.3,148.3 L873.6,149.8 L873.8,151.2 L874.1,152.7 L874.3,154.2 L874.6,155.7 L874.9,157.1 L875.1,158.6 L875.4,160.1 L875.6,161.6 L875.9,163.1 L876.2,164.5 L876.4,166.0 L876.7,167.5 L876.9,169.0 L877.2,170.4 L877.4,171.9 L877.7,173.4 L877.9,174.9 L878.2,176.4 L878.4,177.8 L878.7,179.3 L878.9,180.8 L879.2,182.3 L879.4,183.7 L879.7,185.2 L879.9,186.7 L880.2,188.2 L880.4,189.7 L880.7,191.1 L880.9,192.6 L881.2,194.1 L881.4,195.6 L881.7,197.1 L881.9,198.5 L882.1,200.0 L882.4,201.5 L882.6,203.0 L882.9,204.4 L883.1,205.9 L883.4,207.4 L883.6,208.9 L883.8,210.4 L884.1,211.8 L884.3,213.3 L884.6,214.8 L884.8,216.3 L885.0,217.8 L885.3,219.2 L885.5,220.7 L885.8,222.2 L886.0,223.7 L886.2,225.2 L886.5,226.6 L886.7,228.1 L887.0,229.6 L887.2,231.1 L887.4,232.6 L887.7,234.0 L887.9,235.5 L888.2,237.0 L888.4,238.5 L888.6,240.0 L888.9,241.4 L889.1,242.9 L889.3,244.4 L889.6,245.9 L889.8,247.4 L890.1,248.8 L890.3,250.3 L890.5,251.8 L890.8,253.3 L891.0,254.8 L891.3,256.2 L891.5,257.7 L891.7,259.2 L892.0,260.7 L892.2,262.2 L892.4,263.6 L892.7,265.1 L892.9,266.6 L893.2,268.1 L893.4,269.6 L893.6,271.1 L893.9,272.5 L894.1,274.0 L894.4,275.5 L894.6,277.0 L894.8,278.5 L895.1,279.9 L895.3,281.4 L895.6,282.9 L895.8,284.4 L896.0,285.8 L896.3,287.3 L896.5,288.8 L896.8,290.3 L897.0,291.8 L897.2,293.2 L897.5,294.7 L897.7,296.2 L898.0,297.7 L898.2,299.2 L898.5,300.6 L898.7,302.1 L898.9,303.6 L899.2,305.1 L899.4,306.6 L899.7,308.0 L899.9,309.5 L900.2,311.0 L900.4,312.5 L900.7,314.0 L900.9,315.4 L901.2,316.9 L901.4,318.4 L901.7,319.9 L901.9,321.4 L902.1,322.8 L902.4,324.3 L902.6,325.8 L902.9,327.3 L903.2,328.7 L903.4,330.2 L903.7,331.7 L903.9,333.2 L904.2,334.7 L904.4,336.1 L904.7,337.6 L904.9,339.1 L905.2,340.6 L905.4,342.0 L905.7,343.5 L905.9,345.0 L906.2,346.5 L906.5,347.9 L906.7,349.4 L907.0,350.9 L907.2,352.4 L907.5,353.9 L907.8,355.3 L908.0,356.8 L908.3,358.3 L908.6,359.8 L908.8,361.2 L909.1,362.7 L909.4,364.2 L909.6,365.7 L909.9,367.1 L910.2,368.6 L910.4,370.1 L910.7,371.6 L911.0,373.0 L911.3,374.5 L911.5,376.0 L911.8,377.5 L912.1,378.9 L912.4,380.4 L912.6,381.9 L912.9,383.3 L913.2,384.8 L913.5,386.3 L913.8,387.8 L914.1,389.2 L914.4,390.7 L914.7,392.2 L914.9,393.6 L915.2,395.1 L915.5,396.6 L915.8,398.1 L916.1,399.5 L916.4,401.0 L916.7,402.5 L917.0,403.9 L917.3,405.4 L917.6,406.9 L917.9,408.3 L918.2,409.8 L918.6,411.3 L918.9,412.7 L919.2,414.2 L919.5,415.7 L919.8,417.1 L920.1,418.6 L920.5,420.1 L920.8,421.5 L921.1,423.0 L921.4,424.5 L921.8,425.9 L922.1,427.4 L922.4,428.8 L922.8,430.3 L923.1,431.8 L923.4,433.2 L923.8,434.7 L924.1,436.1 L924.5,437.6 L924.8,439.1 L925.1,440.5 L925.5,442.0 L925.8,443.4 L926.2,444.9 L926.6,446.3 L926.9,447.8 L927.3,449.3 L927.6,450.7 L928.0,452.2 L928.4,453.6 L928.8,455.1 L929.1,456.5 L929.5,458.0 L929.9,459.4 L930.3,460.9 L930.6,462.3 L931.0,463.8 L931.4,465.2 L931.8,466.7 L932.2,468.1 L932.6,469.6 L933.0,471.0 L933.4,472.5 L933.8,473.9 L934.2,475.3 L934.6,476.8 L935.0,478.2 L935.4,479.7 L935.9,481.1 L936.3,482.5 L936.7,484.0 L937.1,485.4 L937.5,486.9 L938.0,488.3 L938.4,489.7 L938.9,491.2 L939.3,492.6 L939.7,494.0 L940.2,495.5 L940.6,496.9 L941.1,498.3 L941.5,499.7 L942.0,501.2 L942.5,502.6 L942.9,504.0 L943.4,505.4 L943.9,506.9 L944.4,508.3 L944.9,509.7 L945.3,511.1 L945.8,512.5 L946.3,514.0 L946.8,515.4 L947.3,516.8 L947.9,518.2 L948.4,519.6 L948.9,521.0 L949.4,522.4 L950.0,523.8 L950.5,525.2 L951.0,526.6 L951.6,528.0 L952.1,529.4 L952.7,530.8 L953.2,532.2 L953.8,533.6 L954.4,535.0 L955.0,536.3 L955.5,537.7 L956.1,539.1 L956.7,540.5 L957.3,541.8 L957.9,543.2 L958.5,544.6 L959.2,546.0 L959.8,547.3 L960.4,548.7 L961.0,550.0 L961.7,551.4 L962.3,552.7 L963.0,554.1 L963.6,555.4 L964.3,556.8 L965.0,558.1 L965.7,559.4 L966.4,560.8 L967.1,562.1 L967.8,563.4 L968.5,564.7 L969.3,566.0 L970.0,567.3 L970.8,568.6 L971.6,569.9 L972.4,571.2 L973.2,572.4 L974.0,573.7 L974.9,574.9 L975.7,576.1 L976.6,577.4 L977.5,578.6 L978.4,579.8 L979.3,580.9 L980.2,582.1 L981.2,583.3 L982.2,584.4 L983.2,585.5 L984.2,586.6 L985.2,587.7 L986.3,588.8 L987.4,589.8 L988.5,590.8 L989.6,591.8 L990.7,592.8 L991.9,593.8 L993.0,594.7 L994.2,595.6 L995.4,596.5 L996.7,597.4 L997.9,598.2" stroke="#0707de" stroke-width="2.7" stroke-dasharray="6.9 2.6 2.9 2.6"/>
</g>
<g stroke="#262626" stroke-width="1.4" fill="none">
<path d="M101.9,14.0 V626.0 H994.0"/>
<path d="M101.6,503.6 h9.2"/>
<path d="M101.6,381.2 h9.2"/>
<path d="M101.6,258.8 h9.2"/>
<path d="M101.6,136.4 h9.2"/>
<path d="M101.6,14.0 h9.2"/>
<path d="M309.1,626.0 v-9"/>
<path d="M516.6,626.0 v-9"/>
<path d="M724.1,626.0 v-9"/>
<path d="M931.6,626.0 v-9"/>
</g>
<g font-family="'Liberation Sans', sans-serif" font-weight="bold" font-size="33" fill="#141414">
<text transform="translate(91,639.6) scale(1,1.04)" text-anchor="end">0</text>
<text transform="translate(91,517.2) scale(1,1.04)" text-anchor="end">0.2</text>
<text transform="translate(91,394.8) scale(1,1.04)" text-anchor="end">0.4</text>
<text transform="translate(91,272.4) scale(1,1.04)" text-anchor="end">0.6</text>
<text transform="translate(91,150.0) scale(1,1.04)" text-anchor="end">0.8</text>
<text transform="translate(101.6,670) scale(1,1.04)" text-anchor="middle">500</text>
<text transform="translate(309.1,670) scale(1,1.04)" text-anchor="middle">550</text>
<text transform="translate(516.6,670) scale(1,1.04)" text-anchor="middle">600</text>
<text transform="translate(724.1,670) scale(1,1.04)" text-anchor="middle">650</text>
<text transform="translate(931.6,670) scale(1,1.04)" text-anchor="middle">700</text>
</g>
<path d="M85.6,4 L85.6,27.6 L80.9,27.6 L80.9,11.2 C79.2,12.7 77.2,13.8 74.9,14.5 L74.9,10.4 C76.3,9.9 77.8,9.1 79.2,8 C80.6,6.9 81.6,5.6 82.2,4 Z" fill="#141414"/>
<text transform="translate(546.5,715.6) scale(1,1.04)" text-anchor="middle" font-family="'Liberation Sans', sans-serif" font-weight="bold" font-size="36.6" fill="#141414">Wavelength (nm)</text>
<text transform="translate(32.3,321.6) rotate(-90) scale(1,1.04)" x="0" y="0" text-anchor="middle" font-family="'Liberation Sans', sans-serif" font-weight="bold" font-size="36.6" fill="#141414">Absorbance (a.u)</text>
<path d="M130.2,42.6 H168.8" fill="none" stroke="#000000" stroke-width="2.4"/>
<text transform="translate(172,55.0) scale(1,1.04)" font-family="'Liberation Sans', sans-serif" font-weight="bold" font-size="29.7" fill="#000" stroke="#000" stroke-width="0.4">EBT-3</text>
<path d="M130.2,80.1 H168.8" fill="none" stroke="#cc1119" stroke-width="2.6" stroke-dasharray="7.6 7.6"/>
<text transform="translate(172,93.0) scale(1,1.04)" font-family="'Liberation Sans', sans-serif" font-weight="bold" font-size="29.7" fill="#000" stroke="#000" stroke-width="0.4">635LiPCDA</text>
<path d="M130.2,118.8 H168.8" fill="none" stroke="#5f9231" stroke-width="3.6" stroke-dasharray="3.6 4.0"/>
<text transform="translate(172,131.0) scale(1,1.04)" font-family="'Liberation Sans', sans-serif" font-weight="bold" font-size="29.7" fill="#000" stroke="#000" stroke-width="0.4">674LiCPDA</text>
<path d="M130.2,155.8 H168.8" fill="none" stroke="#0707de" stroke-width="2.7" stroke-dasharray="6.9 2.6 2.9 2.6"/>
<text transform="translate(172,169.0) scale(1,1.04)" font-family="'Liberation Sans', sans-serif" font-weight="bold" font-size="29.7" fill="#000" stroke="#000" stroke-width="0.4">PCDA</text>
<rect x="0" y="0" width="1000" height="1" fill="#747474"/>
<rect x="0" y="0" width="1" height="725" fill="#747474"/>
<rect x="999" y="0" width="1" height="725" fill="#9a9a9a"/>
<rect x="0" y="724" width="1000" height="1" fill="#969696"/>
</g>
</svg>
</body></html>
